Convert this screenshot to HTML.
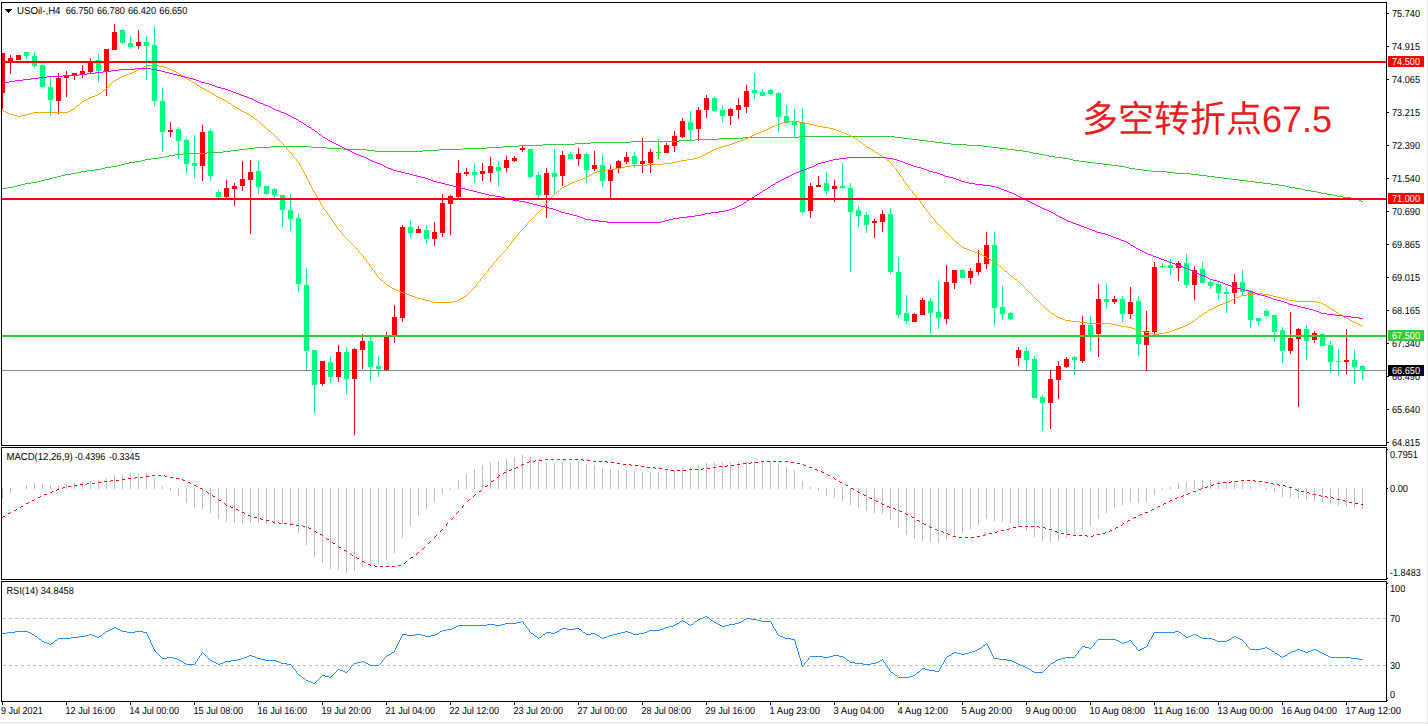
<!DOCTYPE html>
<html><head><meta charset="utf-8"><title>USOil H4</title>
<style>
html,body{margin:0;padding:0;background:#fff;}
body{width:1428px;height:724px;overflow:hidden;font-family:"Liberation Sans",sans-serif;}
svg{display:block;font-family:"Liberation Sans",sans-serif;text-rendering:geometricPrecision;}
svg rect,svg polyline,svg line{shape-rendering:crispEdges;}
</style></head><body>
<svg width="1428" height="724" viewBox="0 0 1428 724">
<rect x="0" y="0" width="1428" height="724" fill="#fff"/>
<rect x="0" y="722" width="1428" height="1" fill="#e5e5e5"/>
<rect x="0" y="723" width="1428" height="1" fill="#f3f3f3"/>
<rect x="1427" y="0" width="1" height="724" fill="#e5e5e5"/>
<rect x="2" y="370" width="1384" height="1" fill="#778899"/>
<rect x="2" y="53" width="1" height="56" fill="#ff0000"/>
<rect x="2" y="53" width="3" height="40" fill="#ff0000"/>
<rect x="10" y="55" width="1" height="19" fill="#ff0000"/>
<rect x="8" y="58" width="5" height="4" fill="#ff0000"/>
<rect x="18" y="55" width="1" height="5" fill="#ff0000"/>
<rect x="16" y="55" width="5" height="5" fill="#ff0000"/>
<rect x="26" y="52" width="1" height="7" fill="#00ff7f"/>
<rect x="24" y="52" width="5" height="4" fill="#00ff7f"/>
<rect x="34" y="52" width="1" height="16" fill="#00ff7f"/>
<rect x="32" y="56" width="5" height="10" fill="#00ff7f"/>
<rect x="42" y="63" width="1" height="25" fill="#00ff7f"/>
<rect x="40" y="65" width="5" height="22" fill="#00ff7f"/>
<rect x="50" y="78" width="1" height="38" fill="#00ff7f"/>
<rect x="48" y="87" width="5" height="13" fill="#00ff7f"/>
<rect x="58" y="73" width="1" height="41" fill="#ff0000"/>
<rect x="56" y="78" width="5" height="23" fill="#ff0000"/>
<rect x="66" y="71" width="1" height="26" fill="#ff0000"/>
<rect x="64" y="76" width="5" height="2" fill="#ff0000"/>
<rect x="74" y="73" width="1" height="7" fill="#ff0000"/>
<rect x="72" y="73" width="5" height="3" fill="#ff0000"/>
<rect x="82" y="65" width="1" height="13" fill="#ff0000"/>
<rect x="80" y="71" width="5" height="3" fill="#ff0000"/>
<rect x="90" y="58" width="1" height="16" fill="#ff0000"/>
<rect x="88" y="62" width="5" height="10" fill="#ff0000"/>
<rect x="98" y="54" width="1" height="28" fill="#00ff7f"/>
<rect x="96" y="60" width="5" height="11" fill="#00ff7f"/>
<rect x="106" y="49" width="1" height="47" fill="#ff0000"/>
<rect x="104" y="49" width="5" height="22" fill="#ff0000"/>
<rect x="114" y="24" width="1" height="26" fill="#ff0000"/>
<rect x="112" y="32" width="5" height="18" fill="#ff0000"/>
<rect x="122" y="29" width="1" height="15" fill="#00ff7f"/>
<rect x="120" y="30" width="5" height="13" fill="#00ff7f"/>
<rect x="130" y="36" width="1" height="13" fill="#00ff7f"/>
<rect x="128" y="43" width="5" height="4" fill="#00ff7f"/>
<rect x="138" y="30" width="1" height="19" fill="#ff0000"/>
<rect x="136" y="42" width="5" height="4" fill="#ff0000"/>
<rect x="146" y="36" width="1" height="44" fill="#00ff7f"/>
<rect x="144" y="42" width="5" height="4" fill="#00ff7f"/>
<rect x="154" y="26" width="1" height="80" fill="#00ff7f"/>
<rect x="152" y="45" width="5" height="56" fill="#00ff7f"/>
<rect x="162" y="88" width="1" height="64" fill="#00ff7f"/>
<rect x="160" y="101" width="5" height="31" fill="#00ff7f"/>
<rect x="170" y="122" width="1" height="15" fill="#ff0000"/>
<rect x="168" y="130" width="5" height="2" fill="#ff0000"/>
<rect x="178" y="127" width="1" height="32" fill="#00ff7f"/>
<rect x="176" y="129" width="5" height="12" fill="#00ff7f"/>
<rect x="186" y="138" width="1" height="36" fill="#00ff7f"/>
<rect x="184" y="140" width="5" height="24" fill="#00ff7f"/>
<rect x="194" y="135" width="1" height="43" fill="#00ff7f"/>
<rect x="192" y="163" width="5" height="3" fill="#00ff7f"/>
<rect x="202" y="125" width="1" height="56" fill="#ff0000"/>
<rect x="200" y="132" width="5" height="34" fill="#ff0000"/>
<rect x="210" y="129" width="1" height="52" fill="#00ff7f"/>
<rect x="208" y="131" width="5" height="45" fill="#00ff7f"/>
<rect x="218" y="190" width="1" height="8" fill="#00ff7f"/>
<rect x="216" y="192" width="5" height="5" fill="#00ff7f"/>
<rect x="226" y="180" width="1" height="18" fill="#ff0000"/>
<rect x="224" y="188" width="5" height="9" fill="#ff0000"/>
<rect x="234" y="183" width="1" height="23" fill="#ff0000"/>
<rect x="232" y="186" width="5" height="3" fill="#ff0000"/>
<rect x="242" y="161" width="1" height="30" fill="#ff0000"/>
<rect x="240" y="179" width="5" height="7" fill="#ff0000"/>
<rect x="250" y="160" width="1" height="74" fill="#ff0000"/>
<rect x="248" y="172" width="5" height="8" fill="#ff0000"/>
<rect x="258" y="161" width="1" height="33" fill="#00ff7f"/>
<rect x="256" y="171" width="5" height="16" fill="#00ff7f"/>
<rect x="266" y="186" width="1" height="9" fill="#00ff7f"/>
<rect x="264" y="186" width="5" height="8" fill="#00ff7f"/>
<rect x="274" y="188" width="1" height="10" fill="#00ff7f"/>
<rect x="272" y="189" width="5" height="6" fill="#00ff7f"/>
<rect x="282" y="195" width="1" height="32" fill="#00ff7f"/>
<rect x="280" y="195" width="5" height="15" fill="#00ff7f"/>
<rect x="290" y="194" width="1" height="37" fill="#00ff7f"/>
<rect x="288" y="210" width="5" height="9" fill="#00ff7f"/>
<rect x="298" y="214" width="1" height="78" fill="#00ff7f"/>
<rect x="296" y="218" width="5" height="66" fill="#00ff7f"/>
<rect x="306" y="268" width="1" height="102" fill="#00ff7f"/>
<rect x="304" y="285" width="5" height="66" fill="#00ff7f"/>
<rect x="314" y="350" width="1" height="64" fill="#00ff7f"/>
<rect x="312" y="350" width="5" height="35" fill="#00ff7f"/>
<rect x="322" y="361" width="1" height="25" fill="#ff0000"/>
<rect x="320" y="361" width="5" height="23" fill="#ff0000"/>
<rect x="330" y="357" width="1" height="26" fill="#00ff7f"/>
<rect x="328" y="362" width="5" height="15" fill="#00ff7f"/>
<rect x="338" y="345" width="1" height="37" fill="#ff0000"/>
<rect x="336" y="352" width="5" height="25" fill="#ff0000"/>
<rect x="346" y="347" width="1" height="47" fill="#00ff7f"/>
<rect x="344" y="352" width="5" height="27" fill="#00ff7f"/>
<rect x="354" y="348" width="1" height="87" fill="#ff0000"/>
<rect x="352" y="349" width="5" height="30" fill="#ff0000"/>
<rect x="362" y="334" width="1" height="35" fill="#ff0000"/>
<rect x="360" y="341" width="5" height="9" fill="#ff0000"/>
<rect x="370" y="337" width="1" height="45" fill="#00ff7f"/>
<rect x="368" y="341" width="5" height="26" fill="#00ff7f"/>
<rect x="378" y="356" width="1" height="21" fill="#00ff7f"/>
<rect x="376" y="366" width="5" height="3" fill="#00ff7f"/>
<rect x="386" y="332" width="1" height="39" fill="#ff0000"/>
<rect x="384" y="335" width="5" height="35" fill="#ff0000"/>
<rect x="394" y="305" width="1" height="38" fill="#ff0000"/>
<rect x="392" y="317" width="5" height="18" fill="#ff0000"/>
<rect x="402" y="225" width="1" height="97" fill="#ff0000"/>
<rect x="400" y="227" width="5" height="91" fill="#ff0000"/>
<rect x="410" y="220" width="1" height="18" fill="#00ff7f"/>
<rect x="408" y="227" width="5" height="6" fill="#00ff7f"/>
<rect x="418" y="226" width="1" height="7" fill="#ff0000"/>
<rect x="416" y="229" width="5" height="4" fill="#ff0000"/>
<rect x="426" y="225" width="1" height="19" fill="#00ff7f"/>
<rect x="424" y="230" width="5" height="9" fill="#00ff7f"/>
<rect x="434" y="222" width="1" height="24" fill="#ff0000"/>
<rect x="432" y="232" width="5" height="7" fill="#ff0000"/>
<rect x="442" y="194" width="1" height="43" fill="#ff0000"/>
<rect x="440" y="203" width="5" height="30" fill="#ff0000"/>
<rect x="450" y="195" width="1" height="40" fill="#ff0000"/>
<rect x="448" y="196" width="5" height="8" fill="#ff0000"/>
<rect x="458" y="160" width="1" height="38" fill="#ff0000"/>
<rect x="456" y="173" width="5" height="24" fill="#ff0000"/>
<rect x="466" y="168" width="1" height="8" fill="#ff0000"/>
<rect x="464" y="172" width="5" height="2" fill="#ff0000"/>
<rect x="474" y="163" width="1" height="20" fill="#00ff7f"/>
<rect x="472" y="172" width="5" height="3" fill="#00ff7f"/>
<rect x="482" y="163" width="1" height="18" fill="#ff0000"/>
<rect x="480" y="171" width="5" height="3" fill="#ff0000"/>
<rect x="490" y="157" width="1" height="25" fill="#ff0000"/>
<rect x="488" y="166" width="5" height="7" fill="#ff0000"/>
<rect x="498" y="161" width="1" height="25" fill="#00ff7f"/>
<rect x="496" y="167" width="5" height="4" fill="#00ff7f"/>
<rect x="506" y="156" width="1" height="16" fill="#ff0000"/>
<rect x="504" y="160" width="5" height="8" fill="#ff0000"/>
<rect x="514" y="156" width="1" height="6" fill="#ff0000"/>
<rect x="512" y="158" width="5" height="3" fill="#ff0000"/>
<rect x="522" y="146" width="1" height="6" fill="#ff0000"/>
<rect x="520" y="148" width="5" height="2" fill="#ff0000"/>
<rect x="530" y="149" width="1" height="29" fill="#00ff7f"/>
<rect x="528" y="149" width="5" height="28" fill="#00ff7f"/>
<rect x="538" y="172" width="1" height="26" fill="#00ff7f"/>
<rect x="536" y="175" width="5" height="20" fill="#00ff7f"/>
<rect x="546" y="168" width="1" height="50" fill="#ff0000"/>
<rect x="544" y="173" width="5" height="22" fill="#ff0000"/>
<rect x="554" y="149" width="1" height="45" fill="#00ff7f"/>
<rect x="552" y="173" width="5" height="4" fill="#00ff7f"/>
<rect x="562" y="151" width="1" height="35" fill="#ff0000"/>
<rect x="560" y="155" width="5" height="21" fill="#ff0000"/>
<rect x="570" y="152" width="1" height="7" fill="#00ff7f"/>
<rect x="568" y="154" width="5" height="5" fill="#00ff7f"/>
<rect x="578" y="148" width="1" height="18" fill="#ff0000"/>
<rect x="576" y="154" width="5" height="5" fill="#ff0000"/>
<rect x="586" y="153" width="1" height="30" fill="#00ff7f"/>
<rect x="584" y="154" width="5" height="16" fill="#00ff7f"/>
<rect x="594" y="151" width="1" height="20" fill="#ff0000"/>
<rect x="592" y="165" width="5" height="4" fill="#ff0000"/>
<rect x="602" y="154" width="1" height="33" fill="#00ff7f"/>
<rect x="600" y="165" width="5" height="16" fill="#00ff7f"/>
<rect x="610" y="165" width="1" height="33" fill="#ff0000"/>
<rect x="608" y="169" width="5" height="12" fill="#ff0000"/>
<rect x="618" y="160" width="1" height="13" fill="#ff0000"/>
<rect x="616" y="161" width="5" height="7" fill="#ff0000"/>
<rect x="626" y="152" width="1" height="12" fill="#ff0000"/>
<rect x="624" y="157" width="5" height="5" fill="#ff0000"/>
<rect x="634" y="152" width="1" height="16" fill="#00ff7f"/>
<rect x="632" y="156" width="5" height="8" fill="#00ff7f"/>
<rect x="642" y="138" width="1" height="35" fill="#ff0000"/>
<rect x="640" y="161" width="5" height="3" fill="#ff0000"/>
<rect x="650" y="149" width="1" height="24" fill="#ff0000"/>
<rect x="648" y="152" width="5" height="11" fill="#ff0000"/>
<rect x="658" y="139" width="1" height="20" fill="#00ff00"/>
<rect x="656" y="152" width="5" height="1" fill="#00ff00"/>
<rect x="666" y="143" width="1" height="10" fill="#ff0000"/>
<rect x="664" y="145" width="5" height="8" fill="#ff0000"/>
<rect x="674" y="131" width="1" height="21" fill="#ff0000"/>
<rect x="672" y="136" width="5" height="10" fill="#ff0000"/>
<rect x="682" y="118" width="1" height="20" fill="#ff0000"/>
<rect x="680" y="121" width="5" height="16" fill="#ff0000"/>
<rect x="690" y="111" width="1" height="31" fill="#00ff7f"/>
<rect x="688" y="122" width="5" height="8" fill="#00ff7f"/>
<rect x="698" y="107" width="1" height="34" fill="#ff0000"/>
<rect x="696" y="110" width="5" height="19" fill="#ff0000"/>
<rect x="706" y="95" width="1" height="23" fill="#ff0000"/>
<rect x="704" y="98" width="5" height="12" fill="#ff0000"/>
<rect x="714" y="97" width="1" height="15" fill="#00ff7f"/>
<rect x="712" y="98" width="5" height="13" fill="#00ff7f"/>
<rect x="722" y="105" width="1" height="17" fill="#00ff7f"/>
<rect x="720" y="110" width="5" height="6" fill="#00ff7f"/>
<rect x="730" y="108" width="1" height="17" fill="#ff0000"/>
<rect x="728" y="109" width="5" height="7" fill="#ff0000"/>
<rect x="738" y="98" width="1" height="21" fill="#ff0000"/>
<rect x="736" y="105" width="5" height="5" fill="#ff0000"/>
<rect x="746" y="85" width="1" height="28" fill="#ff0000"/>
<rect x="744" y="91" width="5" height="16" fill="#ff0000"/>
<rect x="754" y="73" width="1" height="26" fill="#00ff7f"/>
<rect x="752" y="90" width="5" height="3" fill="#00ff7f"/>
<rect x="762" y="89" width="1" height="7" fill="#00ff7f"/>
<rect x="760" y="92" width="5" height="4" fill="#00ff7f"/>
<rect x="770" y="89" width="1" height="6" fill="#00ff7f"/>
<rect x="768" y="90" width="5" height="4" fill="#00ff7f"/>
<rect x="778" y="92" width="1" height="40" fill="#00ff7f"/>
<rect x="776" y="93" width="5" height="24" fill="#00ff7f"/>
<rect x="786" y="105" width="1" height="19" fill="#00ff7f"/>
<rect x="784" y="116" width="5" height="7" fill="#00ff7f"/>
<rect x="794" y="109" width="1" height="29" fill="#00ff7f"/>
<rect x="792" y="121" width="5" height="4" fill="#00ff7f"/>
<rect x="802" y="108" width="1" height="106" fill="#00ff7f"/>
<rect x="800" y="123" width="5" height="89" fill="#00ff7f"/>
<rect x="810" y="183" width="1" height="35" fill="#ff0000"/>
<rect x="808" y="186" width="5" height="25" fill="#ff0000"/>
<rect x="818" y="176" width="1" height="11" fill="#ff0000"/>
<rect x="816" y="185" width="5" height="2" fill="#ff0000"/>
<rect x="826" y="172" width="1" height="23" fill="#00ff7f"/>
<rect x="824" y="183" width="5" height="8" fill="#00ff7f"/>
<rect x="834" y="180" width="1" height="22" fill="#ff0000"/>
<rect x="832" y="186" width="5" height="3" fill="#ff0000"/>
<rect x="842" y="163" width="1" height="26" fill="#00ff7f"/>
<rect x="840" y="186" width="5" height="2" fill="#00ff7f"/>
<rect x="850" y="183" width="1" height="89" fill="#00ff7f"/>
<rect x="848" y="188" width="5" height="24" fill="#00ff7f"/>
<rect x="858" y="206" width="1" height="21" fill="#00ff7f"/>
<rect x="856" y="210" width="5" height="6" fill="#00ff7f"/>
<rect x="866" y="212" width="1" height="21" fill="#00ff7f"/>
<rect x="864" y="215" width="5" height="10" fill="#00ff7f"/>
<rect x="874" y="219" width="1" height="19" fill="#ff0000"/>
<rect x="872" y="221" width="5" height="2" fill="#ff0000"/>
<rect x="882" y="210" width="1" height="22" fill="#ff0000"/>
<rect x="880" y="214" width="5" height="8" fill="#ff0000"/>
<rect x="890" y="208" width="1" height="66" fill="#00ff7f"/>
<rect x="888" y="214" width="5" height="58" fill="#00ff7f"/>
<rect x="898" y="257" width="1" height="61" fill="#00ff7f"/>
<rect x="896" y="272" width="5" height="43" fill="#00ff7f"/>
<rect x="906" y="295" width="1" height="29" fill="#00ff7f"/>
<rect x="904" y="313" width="5" height="8" fill="#00ff7f"/>
<rect x="914" y="313" width="1" height="9" fill="#ff0000"/>
<rect x="912" y="314" width="5" height="8" fill="#ff0000"/>
<rect x="922" y="298" width="1" height="17" fill="#ff0000"/>
<rect x="920" y="300" width="5" height="15" fill="#ff0000"/>
<rect x="930" y="298" width="1" height="36" fill="#00ff7f"/>
<rect x="928" y="301" width="5" height="12" fill="#00ff7f"/>
<rect x="938" y="281" width="1" height="48" fill="#00ff7f"/>
<rect x="936" y="312" width="5" height="6" fill="#00ff7f"/>
<rect x="946" y="265" width="1" height="59" fill="#ff0000"/>
<rect x="944" y="282" width="5" height="37" fill="#ff0000"/>
<rect x="954" y="270" width="1" height="19" fill="#ff0000"/>
<rect x="952" y="270" width="5" height="13" fill="#ff0000"/>
<rect x="962" y="269" width="1" height="9" fill="#00ff7f"/>
<rect x="960" y="270" width="5" height="8" fill="#00ff7f"/>
<rect x="970" y="268" width="1" height="16" fill="#ff0000"/>
<rect x="968" y="271" width="5" height="7" fill="#ff0000"/>
<rect x="978" y="250" width="1" height="25" fill="#ff0000"/>
<rect x="976" y="263" width="5" height="9" fill="#ff0000"/>
<rect x="986" y="232" width="1" height="37" fill="#ff0000"/>
<rect x="984" y="245" width="5" height="19" fill="#ff0000"/>
<rect x="994" y="232" width="1" height="94" fill="#00ff7f"/>
<rect x="992" y="245" width="5" height="63" fill="#00ff7f"/>
<rect x="1002" y="286" width="1" height="34" fill="#00ff7f"/>
<rect x="1000" y="307" width="5" height="7" fill="#00ff7f"/>
<rect x="1010" y="312" width="1" height="8" fill="#00ff7f"/>
<rect x="1008" y="313" width="5" height="6" fill="#00ff7f"/>
<rect x="1018" y="347" width="1" height="19" fill="#ff0000"/>
<rect x="1016" y="350" width="5" height="8" fill="#ff0000"/>
<rect x="1026" y="347" width="1" height="23" fill="#00ff7f"/>
<rect x="1024" y="351" width="5" height="9" fill="#00ff7f"/>
<rect x="1034" y="356" width="1" height="42" fill="#00ff7f"/>
<rect x="1032" y="359" width="5" height="39" fill="#00ff7f"/>
<rect x="1042" y="395" width="1" height="36" fill="#00ff7f"/>
<rect x="1040" y="397" width="5" height="6" fill="#00ff7f"/>
<rect x="1050" y="370" width="1" height="59" fill="#ff0000"/>
<rect x="1048" y="379" width="5" height="24" fill="#ff0000"/>
<rect x="1058" y="361" width="1" height="38" fill="#ff0000"/>
<rect x="1056" y="366" width="5" height="14" fill="#ff0000"/>
<rect x="1066" y="357" width="1" height="11" fill="#ff0000"/>
<rect x="1064" y="359" width="5" height="8" fill="#ff0000"/>
<rect x="1074" y="356" width="1" height="19" fill="#00ff7f"/>
<rect x="1072" y="357" width="5" height="3" fill="#00ff7f"/>
<rect x="1082" y="316" width="1" height="47" fill="#ff0000"/>
<rect x="1080" y="325" width="5" height="36" fill="#ff0000"/>
<rect x="1090" y="316" width="1" height="35" fill="#00ff7f"/>
<rect x="1088" y="325" width="5" height="11" fill="#00ff7f"/>
<rect x="1098" y="284" width="1" height="73" fill="#ff0000"/>
<rect x="1096" y="299" width="5" height="35" fill="#ff0000"/>
<rect x="1106" y="283" width="1" height="26" fill="#00ff7f"/>
<rect x="1104" y="299" width="5" height="3" fill="#00ff7f"/>
<rect x="1114" y="296" width="1" height="8" fill="#ff0000"/>
<rect x="1112" y="299" width="5" height="3" fill="#ff0000"/>
<rect x="1122" y="296" width="1" height="26" fill="#00ff7f"/>
<rect x="1120" y="299" width="5" height="15" fill="#00ff7f"/>
<rect x="1130" y="287" width="1" height="32" fill="#ff0000"/>
<rect x="1128" y="302" width="5" height="12" fill="#ff0000"/>
<rect x="1138" y="296" width="1" height="60" fill="#00ff7f"/>
<rect x="1136" y="301" width="5" height="43" fill="#00ff7f"/>
<rect x="1146" y="311" width="1" height="60" fill="#ff0000"/>
<rect x="1144" y="331" width="5" height="14" fill="#ff0000"/>
<rect x="1154" y="262" width="1" height="72" fill="#ff0000"/>
<rect x="1152" y="267" width="5" height="65" fill="#ff0000"/>
<rect x="1162" y="263" width="1" height="5" fill="#00ff00"/>
<rect x="1160" y="266" width="5" height="1" fill="#00ff00"/>
<rect x="1170" y="259" width="1" height="16" fill="#00ff7f"/>
<rect x="1168" y="265" width="5" height="3" fill="#00ff7f"/>
<rect x="1178" y="261" width="1" height="20" fill="#ff0000"/>
<rect x="1176" y="263" width="5" height="5" fill="#ff0000"/>
<rect x="1186" y="254" width="1" height="34" fill="#00ff7f"/>
<rect x="1184" y="263" width="5" height="22" fill="#00ff7f"/>
<rect x="1194" y="266" width="1" height="34" fill="#ff0000"/>
<rect x="1192" y="270" width="5" height="15" fill="#ff0000"/>
<rect x="1202" y="262" width="1" height="21" fill="#00ff7f"/>
<rect x="1200" y="269" width="5" height="14" fill="#00ff7f"/>
<rect x="1210" y="279" width="1" height="10" fill="#00ff7f"/>
<rect x="1208" y="282" width="5" height="4" fill="#00ff7f"/>
<rect x="1218" y="282" width="1" height="17" fill="#00ff7f"/>
<rect x="1216" y="284" width="5" height="9" fill="#00ff7f"/>
<rect x="1226" y="287" width="1" height="26" fill="#00ff7f"/>
<rect x="1224" y="292" width="5" height="2" fill="#00ff7f"/>
<rect x="1234" y="274" width="1" height="30" fill="#ff0000"/>
<rect x="1232" y="282" width="5" height="11" fill="#ff0000"/>
<rect x="1242" y="270" width="1" height="25" fill="#00ff7f"/>
<rect x="1240" y="282" width="5" height="10" fill="#00ff7f"/>
<rect x="1250" y="290" width="1" height="38" fill="#00ff7f"/>
<rect x="1248" y="291" width="5" height="29" fill="#00ff7f"/>
<rect x="1258" y="318" width="1" height="8" fill="#00ff7f"/>
<rect x="1256" y="318" width="5" height="3" fill="#00ff7f"/>
<rect x="1266" y="309" width="1" height="8" fill="#00ff7f"/>
<rect x="1264" y="311" width="5" height="5" fill="#00ff7f"/>
<rect x="1274" y="315" width="1" height="27" fill="#00ff7f"/>
<rect x="1272" y="315" width="5" height="17" fill="#00ff7f"/>
<rect x="1282" y="327" width="1" height="36" fill="#00ff7f"/>
<rect x="1280" y="330" width="5" height="21" fill="#00ff7f"/>
<rect x="1290" y="312" width="1" height="42" fill="#ff0000"/>
<rect x="1288" y="338" width="5" height="13" fill="#ff0000"/>
<rect x="1298" y="328" width="1" height="79" fill="#ff0000"/>
<rect x="1296" y="329" width="5" height="10" fill="#ff0000"/>
<rect x="1306" y="325" width="1" height="35" fill="#00ff7f"/>
<rect x="1304" y="329" width="5" height="12" fill="#00ff7f"/>
<rect x="1314" y="331" width="1" height="12" fill="#ff0000"/>
<rect x="1312" y="333" width="5" height="7" fill="#ff0000"/>
<rect x="1322" y="333" width="1" height="13" fill="#00ff7f"/>
<rect x="1320" y="334" width="5" height="12" fill="#00ff7f"/>
<rect x="1330" y="341" width="1" height="32" fill="#00ff7f"/>
<rect x="1328" y="345" width="5" height="17" fill="#00ff7f"/>
<rect x="1338" y="349" width="1" height="27" fill="#00ff7f"/>
<rect x="1336" y="361" width="5" height="1" fill="#00ff7f"/>
<rect x="1346" y="329" width="1" height="45" fill="#ff0000"/>
<rect x="1344" y="360" width="5" height="2" fill="#ff0000"/>
<rect x="1354" y="350" width="1" height="34" fill="#00ff7f"/>
<rect x="1352" y="360" width="5" height="7" fill="#00ff7f"/>
<rect x="1362" y="365" width="1" height="15" fill="#00ff7f"/>
<rect x="1360" y="366" width="5" height="5" fill="#00ff7f"/>
<path d="M2 188h5v1h-5zM1295 188h6v1h-6zM7 187h6v1h-6zM1289 187h6v1h-6zM13 186h4v1h-4zM1285 186h4v1h-4zM17 185h4v1h-4zM1279 185h6v1h-6zM21 184h4v1h-4zM1271 184h8v1h-8zM25 183h6v1h-6zM1263 183h8v1h-8zM31 182h6v1h-6zM1255 182h8v1h-8zM37 181h4v1h-4zM1247 181h8v1h-8zM41 180h4v1h-4zM1239 180h8v1h-8zM45 179h4v1h-4zM1231 179h8v1h-8zM49 178h4v1h-4zM1223 178h8v1h-8zM53 177h4v1h-4zM1215 177h8v1h-8zM57 176h4v1h-4zM1207 176h8v1h-8zM61 175h4v1h-4zM1199 175h8v1h-8zM65 174h6v1h-6zM1191 174h8v1h-8zM71 173h6v1h-6zM1175 173h16v1h-16zM77 172h4v1h-4zM1167 172h8v1h-8zM81 171h6v1h-6zM1151 171h16v1h-16zM87 170h8v1h-8zM1143 170h8v1h-8zM95 169h6v1h-6zM1135 169h8v1h-8zM101 168h4v1h-4zM1129 168h6v1h-6zM105 167h6v1h-6zM1125 167h4v1h-4zM111 166h6v1h-6zM1119 166h6v1h-6zM117 165h4v1h-4zM1111 165h8v1h-8zM121 164h4v1h-4zM1103 164h8v1h-8zM125 163h4v1h-4zM1095 163h8v1h-8zM129 162h6v1h-6zM1087 162h8v1h-8zM135 161h6v1h-6zM1079 161h8v1h-8zM141 160h4v1h-4zM1073 160h6v1h-6zM145 159h6v1h-6zM1069 159h4v1h-4zM151 158h8v1h-8zM1063 158h6v1h-6zM159 157h6v1h-6zM1055 157h8v1h-8zM165 156h4v1h-4zM1049 156h6v1h-6zM169 155h6v1h-6zM1045 155h4v1h-4zM175 154h8v1h-8zM1039 154h6v1h-6zM183 153h24v1h-24zM1033 153h6v1h-6zM207 152h16v1h-16zM1029 152h4v1h-4zM223 151h8v1h-8zM375 151h48v1h-48zM1023 151h6v1h-6zM231 150h8v1h-8zM367 150h8v1h-8zM423 150h16v1h-16zM1015 150h8v1h-8zM239 149h8v1h-8zM343 149h24v1h-24zM439 149h24v1h-24zM1007 149h8v1h-8zM247 148h8v1h-8zM327 148h16v1h-16zM463 148h24v1h-24zM999 148h8v1h-8zM255 147h16v1h-16zM311 147h16v1h-16zM487 147h16v1h-16zM991 147h8v1h-8zM271 146h40v1h-40zM503 146h16v1h-16zM983 146h8v1h-8zM519 145h24v1h-24zM967 145h16v1h-16zM543 144h32v1h-32zM951 144h16v1h-16zM575 143h16v1h-16zM943 143h8v1h-8zM591 142h40v1h-40zM935 142h8v1h-8zM631 141h48v1h-48zM927 141h8v1h-8zM679 140h16v1h-16zM919 140h8v1h-8zM695 139h24v1h-24zM911 139h8v1h-8zM719 138h24v1h-24zM903 138h8v1h-8zM743 137h56v1h-56zM895 137h8v1h-8zM799 136h96v1h-96zM1301 189h4v1h-4zM1305 190h6v1h-6zM1311 191h6v1h-6zM1317 192h4v1h-4zM1321 193h6v1h-6zM1327 194h6v1h-6zM1333 195h4v1h-4zM1337 196h6v1h-6zM1343 197h8v1h-8zM1351 198h5v1h-5zM1356 199h3v1h-3zM1359 200h2v1h-2zM1361 201h2v1h-2z" fill="#32cd32"/>
<path d="M2 110h2v1h-2zM70 110h2v1h-2zM240 110h2v1h-2zM4 111h2v1h-2zM68 111h2v1h-2zM242 111h2v1h-2zM6 112h2v1h-2zM33 112h35v1h-35zM244 112h2v1h-2zM8 113h2v1h-2zM29 113h4v1h-4zM246 113h2v1h-2zM10 114h3v1h-3zM25 114h4v1h-4zM248 114h2v1h-2zM13 115h4v1h-4zM21 115h4v1h-4zM250 115h1v1h-1zM17 116h4v1h-4zM251 116h2v1h-2zM72 109h2v1h-2zM239 109h1v1h-1zM74 108h1v1h-1zM237 108h2v1h-2zM75 107h1v1h-1zM235 107h2v1h-2zM76 106h1v1h-1zM234 106h1v1h-1zM77 105h2v1h-2zM232 105h2v1h-2zM79 104h1v1h-1zM231 104h1v1h-1zM80 103h1v1h-1zM229 103h2v1h-2zM81 102h1v1h-1zM227 102h2v1h-2zM82 101h2v1h-2zM226 101h1v1h-1zM84 100h2v1h-2zM224 100h2v1h-2zM86 99h2v1h-2zM222 99h2v1h-2zM88 98h2v1h-2zM220 98h2v1h-2zM90 97h2v1h-2zM218 97h2v1h-2zM92 96h3v1h-3zM216 96h2v1h-2zM95 95h2v1h-2zM215 95h1v1h-1zM97 94h2v1h-2zM213 94h2v1h-2zM99 93h2v1h-2zM211 93h2v1h-2zM101 92h1v1h-1zM210 92h1v1h-1zM102 91h1v1h-1zM208 91h2v1h-2zM103 90h2v1h-2zM206 90h2v1h-2zM105 89h1v1h-1zM204 89h2v1h-2zM106 88h1v1h-1zM202 88h2v1h-2zM107 87h1v1h-1zM200 87h2v1h-2zM108 86h1v1h-1zM199 86h1v1h-1zM109 85h1v1h-1zM197 85h2v1h-2zM110 84h1v1h-1zM195 84h2v1h-2zM111 83h1v1h-1zM194 83h1v1h-1zM112 82h1v1h-1zM192 82h2v1h-2zM113 81h1v1h-1zM191 81h1v1h-1zM114 80h2v1h-2zM189 80h2v1h-2zM116 79h2v1h-2zM187 79h2v1h-2zM118 78h2v1h-2zM186 78h1v1h-1zM120 77h2v1h-2zM184 77h2v1h-2zM122 76h2v1h-2zM183 76h1v1h-1zM124 75h3v1h-3zM181 75h2v1h-2zM127 74h2v1h-2zM179 74h2v1h-2zM129 73h3v1h-3zM178 73h1v1h-1zM132 72h2v1h-2zM176 72h2v1h-2zM134 71h2v1h-2zM174 71h2v1h-2zM136 70h2v1h-2zM172 70h2v1h-2zM138 69h2v1h-2zM169 69h3v1h-3zM140 68h2v1h-2zM167 68h2v1h-2zM142 67h2v1h-2zM164 67h3v1h-3zM144 66h2v1h-2zM159 66h5v1h-5zM146 65h13v1h-13zM253 117h1v1h-1zM254 118h1v1h-1zM255 119h2v1h-2zM257 120h1v1h-1zM258 121h1v1h-1zM785 121h14v1h-14zM259 122h1v1h-1zM783 122h2v1h-2zM799 122h6v1h-6zM260 123h1v1h-1zM780 123h3v1h-3zM805 123h4v1h-4zM261 124h2v1h-2zM777 124h3v1h-3zM809 124h4v1h-4zM263 125h1v1h-1zM775 125h2v1h-2zM813 125h4v1h-4zM264 126h1v1h-1zM772 126h3v1h-3zM817 126h6v1h-6zM265 127h1v1h-1zM770 127h2v1h-2zM823 127h6v1h-6zM266 128h1v1h-1zM768 128h2v1h-2zM829 128h4v1h-4zM267 129h1v1h-1zM766 129h2v1h-2zM833 129h3v1h-3zM268 130h1v1h-1zM764 130h2v1h-2zM836 130h3v1h-3zM269 131h2v1h-2zM761 131h3v1h-3zM839 131h2v1h-2zM271 132h1v1h-1zM759 132h2v1h-2zM841 132h3v1h-3zM272 133h1v1h-1zM756 133h3v1h-3zM844 133h3v1h-3zM273 134h1v1h-1zM754 134h2v1h-2zM847 134h2v1h-2zM274 135h1v1h-1zM752 135h2v1h-2zM849 135h2v1h-2zM275 136h1v1h-1zM750 136h2v1h-2zM851 136h2v1h-2zM276 137h1v1h-1zM748 137h2v1h-2zM853 137h2v1h-2zM277 138h1v1h-1zM745 138h3v1h-3zM855 138h1v1h-1zM278 139h1v1h-1zM743 139h2v1h-2zM856 139h2v1h-2zM279 140h1v1h-1zM740 140h3v1h-3zM858 140h1v1h-1zM280 141h1v1h-1zM737 141h3v1h-3zM859 141h2v1h-2zM281 142h1v1h-1zM735 142h2v1h-2zM861 142h1v1h-1zM282 143h1v1h-1zM732 143h3v1h-3zM862 143h1v1h-1zM283 144h1v1h-1zM729 144h3v1h-3zM863 144h2v1h-2zM284 145h1v1h-1zM725 145h4v1h-4zM865 145h1v1h-1zM285 146h1v1h-1zM721 146h4v1h-4zM866 146h1v1h-1zM286 147h1v1h-1zM719 147h2v1h-2zM867 147h2v1h-2zM286 148h1v1h-1zM716 148h3v1h-3zM869 148h2v1h-2zM287 149h1v1h-1zM714 149h2v1h-2zM871 149h1v1h-1zM288 150h1v1h-1zM712 150h2v1h-2zM872 150h2v1h-2zM289 151h1v1h-1zM710 151h2v1h-2zM874 151h1v1h-1zM290 152h1v1h-1zM708 152h2v1h-2zM875 152h2v1h-2zM291 153h1v1h-1zM706 153h2v1h-2zM877 153h2v1h-2zM292 154h1v1h-1zM704 154h2v1h-2zM879 154h1v1h-1zM292 155h1v1h-1zM702 155h2v1h-2zM880 155h2v1h-2zM293 156h1v1h-1zM700 156h2v1h-2zM882 156h1v1h-1zM294 157h1v1h-1zM697 157h3v1h-3zM883 157h2v1h-2zM295 158h1v1h-1zM693 158h4v1h-4zM885 158h1v1h-1zM296 159h1v1h-1zM687 159h6v1h-6zM886 159h1v1h-1zM296 160h1v1h-1zM681 160h6v1h-6zM887 160h2v1h-2zM297 161h1v1h-1zM677 161h4v1h-4zM889 161h1v1h-1zM298 162h1v1h-1zM671 162h6v1h-6zM890 162h1v1h-1zM299 163h1v1h-1zM663 163h8v1h-8zM891 163h1v1h-1zM299 164h1v1h-1zM647 164h16v1h-16zM892 164h1v1h-1zM300 165h1v1h-1zM631 165h16v1h-16zM892 165h1v1h-1zM300 166h1v1h-1zM625 166h6v1h-6zM893 166h1v1h-1zM301 167h1v1h-1zM621 167h4v1h-4zM894 167h1v1h-1zM301 168h1v1h-1zM615 168h6v1h-6zM895 168h1v1h-1zM302 169h1v1h-1zM607 169h8v1h-8zM896 169h1v1h-1zM303 170h1v1h-1zM601 170h6v1h-6zM896 170h1v1h-1zM303 171h1v1h-1zM597 171h4v1h-4zM897 171h1v1h-1zM304 172h1v1h-1zM594 172h3v1h-3zM898 172h1v1h-1zM304 173h1v1h-1zM592 173h2v1h-2zM899 173h1v1h-1zM305 174h1v1h-1zM591 174h1v1h-1zM899 174h1v1h-1zM305 175h1v1h-1zM589 175h2v1h-2zM900 175h1v1h-1zM306 176h1v1h-1zM587 176h2v1h-2zM901 176h1v1h-1zM306 177h1v1h-1zM585 177h2v1h-2zM901 177h1v1h-1zM307 178h1v1h-1zM583 178h2v1h-2zM902 178h1v1h-1zM307 179h1v1h-1zM580 179h3v1h-3zM903 179h1v1h-1zM308 180h1v1h-1zM577 180h3v1h-3zM903 180h1v1h-1zM308 181h1v1h-1zM575 181h2v1h-2zM904 181h1v1h-1zM309 182h1v1h-1zM572 182h3v1h-3zM905 182h1v1h-1zM309 183h1v1h-1zM570 183h2v1h-2zM905 183h1v1h-1zM310 184h1v1h-1zM568 184h2v1h-2zM906 184h1v1h-1zM310 185h1v1h-1zM566 185h2v1h-2zM907 185h1v1h-1zM311 186h1v1h-1zM564 186h2v1h-2zM908 186h1v1h-1zM311 187h1v1h-1zM562 187h2v1h-2zM908 187h1v1h-1zM312 188h1v1h-1zM561 188h1v1h-1zM909 188h1v1h-1zM312 189h1v1h-1zM560 189h1v1h-1zM910 189h1v1h-1zM313 190h1v1h-1zM559 190h1v1h-1zM911 190h1v1h-1zM313 191h1v1h-1zM557 191h2v1h-2zM912 191h1v1h-1zM314 192h1v1h-1zM556 192h1v1h-1zM912 192h1v1h-1zM315 193h1v1h-1zM555 193h1v1h-1zM913 193h1v1h-1zM315 194h1v1h-1zM554 194h1v1h-1zM914 194h1v1h-1zM316 195h1v1h-1zM553 195h1v1h-1zM915 195h1v1h-1zM316 196h1v1h-1zM552 196h1v1h-1zM916 196h1v1h-1zM317 197h1v1h-1zM551 197h1v1h-1zM916 197h1v1h-1zM317 198h1v1h-1zM550 198h1v1h-1zM917 198h1v1h-1zM318 199h1v1h-1zM550 199h1v1h-1zM918 199h1v1h-1zM319 200h1v1h-1zM549 200h1v1h-1zM919 200h1v1h-1zM319 201h1v1h-1zM548 201h1v1h-1zM920 201h1v1h-1zM320 202h1v1h-1zM547 202h1v1h-1zM920 202h1v1h-1zM320 203h1v1h-1zM546 203h1v1h-1zM921 203h1v1h-1zM321 204h1v1h-1zM545 204h1v1h-1zM922 204h1v1h-1zM321 205h1v1h-1zM544 205h1v1h-1zM923 205h1v1h-1zM322 206h1v1h-1zM543 206h1v1h-1zM923 206h1v1h-1zM323 207h1v1h-1zM542 207h1v1h-1zM924 207h1v1h-1zM323 208h1v1h-1zM542 208h1v1h-1zM925 208h1v1h-1zM324 209h1v1h-1zM541 209h1v1h-1zM926 209h1v1h-1zM325 210h1v1h-1zM540 210h1v1h-1zM926 210h1v1h-1zM326 211h1v1h-1zM539 211h1v1h-1zM927 211h1v1h-1zM326 212h1v1h-1zM538 212h1v1h-1zM928 212h1v1h-1zM327 213h1v1h-1zM537 213h1v1h-1zM929 213h1v1h-1zM328 214h1v1h-1zM536 214h1v1h-1zM929 214h1v1h-1zM329 215h1v1h-1zM535 215h1v1h-1zM930 215h1v1h-1zM329 216h1v1h-1zM534 216h1v1h-1zM931 216h1v1h-1zM330 217h1v1h-1zM533 217h1v1h-1zM932 217h1v1h-1zM331 218h1v1h-1zM532 218h1v1h-1zM933 218h1v1h-1zM331 219h1v1h-1zM531 219h1v1h-1zM934 219h1v1h-1zM332 220h1v1h-1zM530 220h1v1h-1zM934 220h1v1h-1zM333 221h1v1h-1zM529 221h1v1h-1zM935 221h1v1h-1zM333 222h1v1h-1zM528 222h1v1h-1zM936 222h1v1h-1zM334 223h1v1h-1zM527 223h1v1h-1zM937 223h1v1h-1zM335 224h1v1h-1zM526 224h1v1h-1zM938 224h1v1h-1zM335 225h1v1h-1zM526 225h1v1h-1zM939 225h1v1h-1zM336 226h1v1h-1zM525 226h1v1h-1zM940 226h1v1h-1zM337 227h1v1h-1zM524 227h1v1h-1zM941 227h1v1h-1zM337 228h1v1h-1zM523 228h1v1h-1zM942 228h1v1h-1zM338 229h1v1h-1zM522 229h1v1h-1zM943 229h1v1h-1zM339 230h1v1h-1zM521 230h1v1h-1zM944 230h1v1h-1zM340 231h1v1h-1zM520 231h1v1h-1zM945 231h1v1h-1zM341 232h1v1h-1zM519 232h1v1h-1zM946 232h1v1h-1zM342 233h1v1h-1zM518 233h1v1h-1zM947 233h1v1h-1zM342 234h1v1h-1zM518 234h1v1h-1zM948 234h1v1h-1zM343 235h1v1h-1zM517 235h1v1h-1zM949 235h1v1h-1zM344 236h1v1h-1zM516 236h1v1h-1zM950 236h1v1h-1zM345 237h1v1h-1zM515 237h1v1h-1zM951 237h1v1h-1zM346 238h1v1h-1zM514 238h1v1h-1zM952 238h1v1h-1zM347 239h1v1h-1zM513 239h1v1h-1zM953 239h1v1h-1zM348 240h1v1h-1zM513 240h1v1h-1zM954 240h1v1h-1zM349 241h1v1h-1zM512 241h1v1h-1zM955 241h1v1h-1zM350 242h1v1h-1zM511 242h1v1h-1zM956 242h1v1h-1zM351 243h1v1h-1zM510 243h1v1h-1zM957 243h2v1h-2zM352 244h1v1h-1zM510 244h1v1h-1zM959 244h1v1h-1zM353 245h1v1h-1zM509 245h1v1h-1zM960 245h1v1h-1zM354 246h1v1h-1zM508 246h1v1h-1zM961 246h1v1h-1zM355 247h1v1h-1zM507 247h1v1h-1zM962 247h2v1h-2zM356 248h1v1h-1zM507 248h1v1h-1zM964 248h3v1h-3zM357 249h1v1h-1zM506 249h1v1h-1zM967 249h2v1h-2zM358 250h1v1h-1zM505 250h1v1h-1zM969 250h3v1h-3zM358 251h1v1h-1zM504 251h1v1h-1zM972 251h3v1h-3zM359 252h1v1h-1zM503 252h1v1h-1zM975 252h2v1h-2zM360 253h1v1h-1zM502 253h1v1h-1zM977 253h3v1h-3zM361 254h1v1h-1zM501 254h1v1h-1zM980 254h2v1h-2zM362 255h1v1h-1zM500 255h1v1h-1zM982 255h2v1h-2zM363 256h1v1h-1zM499 256h1v1h-1zM984 256h2v1h-2zM363 257h1v1h-1zM498 257h1v1h-1zM986 257h1v1h-1zM364 258h1v1h-1zM497 258h1v1h-1zM987 258h2v1h-2zM365 259h1v1h-1zM496 259h1v1h-1zM989 259h2v1h-2zM366 260h1v1h-1zM496 260h1v1h-1zM991 260h1v1h-1zM366 261h1v1h-1zM495 261h1v1h-1zM992 261h2v1h-2zM367 262h1v1h-1zM494 262h1v1h-1zM994 262h1v1h-1zM368 263h1v1h-1zM493 263h1v1h-1zM995 263h2v1h-2zM369 264h1v1h-1zM492 264h1v1h-1zM997 264h1v1h-1zM369 265h1v1h-1zM492 265h1v1h-1zM998 265h1v1h-1zM370 266h1v1h-1zM491 266h1v1h-1zM999 266h2v1h-2zM371 267h1v1h-1zM490 267h1v1h-1zM1001 267h1v1h-1zM371 268h1v1h-1zM489 268h1v1h-1zM1002 268h1v1h-1zM372 269h1v1h-1zM488 269h1v1h-1zM1003 269h1v1h-1zM373 270h1v1h-1zM488 270h1v1h-1zM1004 270h1v1h-1zM374 271h1v1h-1zM487 271h1v1h-1zM1005 271h2v1h-2zM374 272h1v1h-1zM486 272h1v1h-1zM1007 272h1v1h-1zM375 273h1v1h-1zM485 273h1v1h-1zM1008 273h1v1h-1zM376 274h1v1h-1zM484 274h1v1h-1zM1009 274h1v1h-1zM377 275h1v1h-1zM484 275h1v1h-1zM1010 275h1v1h-1zM377 276h1v1h-1zM483 276h1v1h-1zM1011 276h2v1h-2zM378 277h1v1h-1zM482 277h1v1h-1zM1013 277h1v1h-1zM379 278h1v1h-1zM481 278h1v1h-1zM1014 278h1v1h-1zM380 279h1v1h-1zM480 279h1v1h-1zM1015 279h2v1h-2zM381 280h2v1h-2zM480 280h1v1h-1zM1017 280h1v1h-1zM383 281h1v1h-1zM479 281h1v1h-1zM1018 281h1v1h-1zM384 282h1v1h-1zM478 282h1v1h-1zM1019 282h1v1h-1zM385 283h1v1h-1zM477 283h1v1h-1zM1020 283h1v1h-1zM386 284h1v1h-1zM476 284h1v1h-1zM1021 284h1v1h-1zM387 285h2v1h-2zM476 285h1v1h-1zM1022 285h1v1h-1zM389 286h2v1h-2zM475 286h1v1h-1zM1023 286h1v1h-1zM391 287h1v1h-1zM474 287h1v1h-1zM1024 287h1v1h-1zM392 288h2v1h-2zM473 288h1v1h-1zM1025 288h1v1h-1zM394 289h2v1h-2zM472 289h1v1h-1zM1026 289h1v1h-1zM396 290h3v1h-3zM471 290h1v1h-1zM1027 290h1v1h-1zM399 291h2v1h-2zM470 291h1v1h-1zM1028 291h1v1h-1zM401 292h3v1h-3zM469 292h1v1h-1zM1029 292h1v1h-1zM404 293h3v1h-3zM468 293h1v1h-1zM1030 293h1v1h-1zM1255 293h8v1h-8zM407 294h2v1h-2zM467 294h1v1h-1zM1031 294h1v1h-1zM1247 294h8v1h-8zM1263 294h6v1h-6zM409 295h3v1h-3zM466 295h1v1h-1zM1032 295h1v1h-1zM1241 295h6v1h-6zM1269 295h4v1h-4zM412 296h3v1h-3zM464 296h2v1h-2zM1033 296h1v1h-1zM1239 296h2v1h-2zM1273 296h4v1h-4zM415 297h2v1h-2zM463 297h1v1h-1zM1034 297h1v1h-1zM1236 297h3v1h-3zM1277 297h4v1h-4zM417 298h4v1h-4zM461 298h2v1h-2zM1035 298h1v1h-1zM1234 298h2v1h-2zM1281 298h4v1h-4zM421 299h4v1h-4zM459 299h2v1h-2zM1036 299h1v1h-1zM1232 299h2v1h-2zM1285 299h4v1h-4zM425 300h4v1h-4zM457 300h2v1h-2zM1037 300h1v1h-1zM1230 300h2v1h-2zM1289 300h6v1h-6zM429 301h4v1h-4zM453 301h4v1h-4zM1038 301h1v1h-1zM1228 301h2v1h-2zM1295 301h22v1h-22zM433 302h20v1h-20zM1039 302h1v1h-1zM1225 302h3v1h-3zM1317 302h4v1h-4zM1040 303h1v1h-1zM1223 303h2v1h-2zM1321 303h2v1h-2zM1041 304h1v1h-1zM1220 304h3v1h-3zM1323 304h2v1h-2zM1042 305h1v1h-1zM1218 305h2v1h-2zM1325 305h2v1h-2zM1043 306h1v1h-1zM1216 306h2v1h-2zM1327 306h1v1h-1zM1044 307h1v1h-1zM1214 307h2v1h-2zM1328 307h2v1h-2zM1045 308h2v1h-2zM1212 308h2v1h-2zM1330 308h1v1h-1zM1047 309h1v1h-1zM1210 309h2v1h-2zM1331 309h2v1h-2zM1048 310h1v1h-1zM1208 310h2v1h-2zM1333 310h2v1h-2zM1049 311h1v1h-1zM1207 311h1v1h-1zM1335 311h1v1h-1zM1050 312h1v1h-1zM1205 312h2v1h-2zM1336 312h2v1h-2zM1051 313h2v1h-2zM1203 313h2v1h-2zM1338 313h1v1h-1zM1053 314h2v1h-2zM1202 314h1v1h-1zM1339 314h2v1h-2zM1055 315h1v1h-1zM1201 315h1v1h-1zM1341 315h2v1h-2zM1056 316h2v1h-2zM1199 316h2v1h-2zM1343 316h1v1h-1zM1058 317h2v1h-2zM1198 317h1v1h-1zM1344 317h2v1h-2zM1060 318h3v1h-3zM1197 318h1v1h-1zM1346 318h2v1h-2zM1063 319h2v1h-2zM1195 319h2v1h-2zM1348 319h2v1h-2zM1065 320h6v1h-6zM1194 320h1v1h-1zM1350 320h2v1h-2zM1071 321h8v1h-8zM1192 321h2v1h-2zM1352 321h2v1h-2zM1079 322h8v1h-8zM1191 322h1v1h-1zM1354 322h2v1h-2zM1087 323h24v1h-24zM1189 323h2v1h-2zM1356 323h2v1h-2zM1111 324h6v1h-6zM1187 324h2v1h-2zM1358 324h2v1h-2zM1117 325h4v1h-4zM1185 325h2v1h-2zM1360 325h2v1h-2zM1121 326h6v1h-6zM1183 326h2v1h-2zM1362 326h1v1h-1zM1127 327h5v1h-5zM1180 327h3v1h-3zM1132 328h3v1h-3zM1177 328h3v1h-3zM1135 329h2v1h-2zM1175 329h2v1h-2zM1137 330h4v1h-4zM1172 330h3v1h-3zM1141 331h4v1h-4zM1169 331h3v1h-3zM1145 332h4v1h-4zM1165 332h4v1h-4zM1149 333h4v1h-4zM1159 333h6v1h-6zM1153 334h6v1h-6z" fill="#ffa500"/>
<path d="M2 83h3v1h-3zM205 83h4v1h-4zM5 82h4v1h-4zM201 82h4v1h-4zM9 81h6v1h-6zM199 81h2v1h-2zM15 80h8v1h-8zM196 80h3v1h-3zM23 79h8v1h-8zM193 79h3v1h-3zM31 78h8v1h-8zM189 78h4v1h-4zM39 77h8v1h-8zM185 77h4v1h-4zM47 76h16v1h-16zM181 76h4v1h-4zM63 75h16v1h-16zM177 75h4v1h-4zM79 74h8v1h-8zM173 74h4v1h-4zM87 73h8v1h-8zM169 73h4v1h-4zM95 72h8v1h-8zM165 72h4v1h-4zM103 71h8v1h-8zM161 71h4v1h-4zM111 70h8v1h-8zM157 70h4v1h-4zM119 69h16v1h-16zM151 69h6v1h-6zM135 68h16v1h-16zM209 84h3v1h-3zM212 85h3v1h-3zM215 86h2v1h-2zM217 87h4v1h-4zM221 88h4v1h-4zM225 89h3v1h-3zM228 90h3v1h-3zM231 91h2v1h-2zM233 92h3v1h-3zM236 93h3v1h-3zM239 94h2v1h-2zM241 95h3v1h-3zM244 96h3v1h-3zM247 97h2v1h-2zM249 98h3v1h-3zM252 99h2v1h-2zM254 100h2v1h-2zM256 101h2v1h-2zM258 102h2v1h-2zM260 103h3v1h-3zM263 104h2v1h-2zM265 105h3v1h-3zM268 106h2v1h-2zM270 107h2v1h-2zM272 108h2v1h-2zM274 109h2v1h-2zM276 110h3v1h-3zM279 111h2v1h-2zM281 112h3v1h-3zM284 113h2v1h-2zM286 114h2v1h-2zM288 115h2v1h-2zM290 116h2v1h-2zM292 117h2v1h-2zM294 118h2v1h-2zM296 119h2v1h-2zM298 120h1v1h-1zM299 121h2v1h-2zM301 122h2v1h-2zM303 123h1v1h-1zM304 124h2v1h-2zM306 125h1v1h-1zM307 126h2v1h-2zM309 127h2v1h-2zM311 128h1v1h-1zM312 129h2v1h-2zM314 130h1v1h-1zM315 131h2v1h-2zM317 132h1v1h-1zM318 133h1v1h-1zM319 134h2v1h-2zM321 135h1v1h-1zM322 136h1v1h-1zM323 137h2v1h-2zM325 138h2v1h-2zM327 139h1v1h-1zM328 140h2v1h-2zM330 141h2v1h-2zM332 142h2v1h-2zM334 143h2v1h-2zM336 144h2v1h-2zM338 145h2v1h-2zM340 146h2v1h-2zM342 147h2v1h-2zM344 148h2v1h-2zM346 149h2v1h-2zM348 150h2v1h-2zM350 151h2v1h-2zM352 152h2v1h-2zM354 153h2v1h-2zM356 154h3v1h-3zM359 155h2v1h-2zM361 156h3v1h-3zM364 157h2v1h-2zM847 157h40v1h-40zM366 158h2v1h-2zM839 158h8v1h-8zM887 158h6v1h-6zM368 159h2v1h-2zM833 159h6v1h-6zM893 159h4v1h-4zM370 160h2v1h-2zM829 160h4v1h-4zM897 160h3v1h-3zM372 161h3v1h-3zM825 161h4v1h-4zM900 161h3v1h-3zM375 162h2v1h-2zM821 162h4v1h-4zM903 162h2v1h-2zM377 163h3v1h-3zM818 163h3v1h-3zM905 163h3v1h-3zM380 164h2v1h-2zM816 164h2v1h-2zM908 164h3v1h-3zM382 165h2v1h-2zM814 165h2v1h-2zM911 165h2v1h-2zM384 166h2v1h-2zM812 166h2v1h-2zM913 166h4v1h-4zM386 167h2v1h-2zM809 167h3v1h-3zM917 167h4v1h-4zM388 168h3v1h-3zM807 168h2v1h-2zM921 168h3v1h-3zM391 169h2v1h-2zM804 169h3v1h-3zM924 169h3v1h-3zM393 170h4v1h-4zM801 170h3v1h-3zM927 170h2v1h-2zM397 171h4v1h-4zM799 171h2v1h-2zM929 171h4v1h-4zM401 172h4v1h-4zM796 172h3v1h-3zM933 172h4v1h-4zM405 173h4v1h-4zM794 173h2v1h-2zM937 173h3v1h-3zM409 174h4v1h-4zM792 174h2v1h-2zM940 174h3v1h-3zM413 175h4v1h-4zM790 175h2v1h-2zM943 175h2v1h-2zM417 176h4v1h-4zM788 176h2v1h-2zM945 176h4v1h-4zM421 177h4v1h-4zM786 177h2v1h-2zM949 177h4v1h-4zM425 178h3v1h-3zM784 178h2v1h-2zM953 178h3v1h-3zM428 179h3v1h-3zM782 179h2v1h-2zM956 179h3v1h-3zM431 180h2v1h-2zM780 180h2v1h-2zM959 180h2v1h-2zM433 181h4v1h-4zM778 181h2v1h-2zM961 181h4v1h-4zM437 182h4v1h-4zM776 182h2v1h-2zM965 182h4v1h-4zM441 183h4v1h-4zM775 183h1v1h-1zM969 183h6v1h-6zM445 184h4v1h-4zM773 184h2v1h-2zM975 184h8v1h-8zM449 185h4v1h-4zM771 185h2v1h-2zM983 185h8v1h-8zM453 186h4v1h-4zM770 186h1v1h-1zM991 186h5v1h-5zM457 187h4v1h-4zM768 187h2v1h-2zM996 187h3v1h-3zM461 188h4v1h-4zM767 188h1v1h-1zM999 188h2v1h-2zM465 189h4v1h-4zM765 189h2v1h-2zM1001 189h3v1h-3zM469 190h4v1h-4zM763 190h2v1h-2zM1004 190h3v1h-3zM473 191h4v1h-4zM762 191h1v1h-1zM1007 191h2v1h-2zM477 192h4v1h-4zM760 192h2v1h-2zM1009 192h3v1h-3zM481 193h4v1h-4zM759 193h1v1h-1zM1012 193h2v1h-2zM485 194h4v1h-4zM757 194h2v1h-2zM1014 194h2v1h-2zM489 195h6v1h-6zM755 195h2v1h-2zM1016 195h2v1h-2zM495 196h6v1h-6zM754 196h1v1h-1zM1018 196h2v1h-2zM501 197h4v1h-4zM752 197h2v1h-2zM1020 197h2v1h-2zM505 198h4v1h-4zM751 198h1v1h-1zM1022 198h2v1h-2zM509 199h4v1h-4zM749 199h2v1h-2zM1024 199h2v1h-2zM513 200h6v1h-6zM747 200h2v1h-2zM1026 200h2v1h-2zM519 201h6v1h-6zM746 201h1v1h-1zM1028 201h2v1h-2zM525 202h4v1h-4zM744 202h2v1h-2zM1030 202h2v1h-2zM529 203h4v1h-4zM743 203h1v1h-1zM1032 203h2v1h-2zM533 204h4v1h-4zM741 204h2v1h-2zM1034 204h2v1h-2zM537 205h4v1h-4zM739 205h2v1h-2zM1036 205h2v1h-2zM541 206h4v1h-4zM737 206h2v1h-2zM1038 206h2v1h-2zM545 207h4v1h-4zM735 207h2v1h-2zM1040 207h2v1h-2zM549 208h4v1h-4zM732 208h3v1h-3zM1042 208h2v1h-2zM553 209h3v1h-3zM729 209h3v1h-3zM1044 209h3v1h-3zM556 210h3v1h-3zM725 210h4v1h-4zM1047 210h2v1h-2zM559 211h2v1h-2zM719 211h6v1h-6zM1049 211h2v1h-2zM561 212h4v1h-4zM711 212h8v1h-8zM1051 212h2v1h-2zM565 213h4v1h-4zM705 213h6v1h-6zM1053 213h2v1h-2zM569 214h4v1h-4zM701 214h4v1h-4zM1055 214h1v1h-1zM573 215h4v1h-4zM695 215h6v1h-6zM1056 215h2v1h-2zM577 216h3v1h-3zM687 216h8v1h-8zM1058 216h2v1h-2zM580 217h3v1h-3zM679 217h8v1h-8zM1060 217h2v1h-2zM583 218h2v1h-2zM673 218h6v1h-6zM1062 218h2v1h-2zM585 219h6v1h-6zM669 219h4v1h-4zM1064 219h2v1h-2zM591 220h8v1h-8zM665 220h4v1h-4zM1066 220h2v1h-2zM599 221h8v1h-8zM661 221h4v1h-4zM1068 221h3v1h-3zM607 222h54v1h-54zM1071 222h2v1h-2zM1073 223h3v1h-3zM1076 224h3v1h-3zM1079 225h2v1h-2zM1081 226h3v1h-3zM1084 227h3v1h-3zM1087 228h2v1h-2zM1089 229h3v1h-3zM1092 230h3v1h-3zM1095 231h2v1h-2zM1097 232h4v1h-4zM1101 233h4v1h-4zM1105 234h3v1h-3zM1108 235h3v1h-3zM1111 236h2v1h-2zM1113 237h3v1h-3zM1116 238h3v1h-3zM1119 239h2v1h-2zM1121 240h3v1h-3zM1124 241h2v1h-2zM1126 242h2v1h-2zM1128 243h2v1h-2zM1130 244h1v1h-1zM1131 245h2v1h-2zM1133 246h2v1h-2zM1135 247h1v1h-1zM1136 248h2v1h-2zM1138 249h2v1h-2zM1140 250h2v1h-2zM1142 251h2v1h-2zM1144 252h2v1h-2zM1146 253h2v1h-2zM1148 254h3v1h-3zM1151 255h2v1h-2zM1153 256h3v1h-3zM1156 257h3v1h-3zM1159 258h2v1h-2zM1161 259h3v1h-3zM1164 260h3v1h-3zM1167 261h2v1h-2zM1169 262h3v1h-3zM1172 263h3v1h-3zM1175 264h2v1h-2zM1177 265h3v1h-3zM1180 266h3v1h-3zM1183 267h2v1h-2zM1185 268h3v1h-3zM1188 269h2v1h-2zM1190 270h2v1h-2zM1192 271h2v1h-2zM1194 272h2v1h-2zM1196 273h3v1h-3zM1199 274h2v1h-2zM1201 275h3v1h-3zM1204 276h2v1h-2zM1206 277h2v1h-2zM1208 278h2v1h-2zM1210 279h3v1h-3zM1213 280h4v1h-4zM1217 281h3v1h-3zM1220 282h3v1h-3zM1223 283h2v1h-2zM1225 284h3v1h-3zM1228 285h3v1h-3zM1231 286h2v1h-2zM1233 287h4v1h-4zM1237 288h4v1h-4zM1241 289h4v1h-4zM1245 290h4v1h-4zM1249 291h3v1h-3zM1252 292h3v1h-3zM1255 293h2v1h-2zM1257 294h4v1h-4zM1261 295h4v1h-4zM1265 296h3v1h-3zM1268 297h3v1h-3zM1271 298h2v1h-2zM1273 299h4v1h-4zM1277 300h4v1h-4zM1281 301h3v1h-3zM1284 302h3v1h-3zM1287 303h2v1h-2zM1289 304h4v1h-4zM1293 305h4v1h-4zM1297 306h4v1h-4zM1301 307h4v1h-4zM1305 308h4v1h-4zM1309 309h4v1h-4zM1313 310h3v1h-3zM1316 311h3v1h-3zM1319 312h2v1h-2zM1321 313h6v1h-6zM1327 314h8v1h-8zM1335 315h8v1h-8zM1343 316h8v1h-8zM1351 317h8v1h-8zM1359 318h4v1h-4z" fill="#ff00ff"/>
<rect x="2" y="61" width="1384" height="2" fill="#ff0000"/>
<rect x="2" y="198" width="1384" height="2" fill="#ff0000"/>
<rect x="2" y="335" width="1384" height="2" fill="#32cd32"/>
<rect x="1" y="2" width="1386" height="1" fill="#000"/>
<rect x="1" y="445" width="1386" height="1" fill="#000"/>
<rect x="1" y="2" width="1" height="444" fill="#000"/>
<rect x="1386" y="2" width="1" height="444" fill="#000"/>
<rect x="1" y="447" width="1386" height="1" fill="#000"/>
<rect x="1" y="579" width="1386" height="1" fill="#000"/>
<rect x="1" y="447" width="1" height="133" fill="#000"/>
<rect x="1386" y="447" width="1" height="133" fill="#000"/>
<rect x="1" y="581" width="1386" height="1" fill="#000"/>
<rect x="1" y="701" width="1386" height="1" fill="#000"/>
<rect x="1" y="581" width="1" height="121" fill="#000"/>
<rect x="1386" y="581" width="1" height="121" fill="#000"/>
<rect x="1387" y="13" width="2" height="1" fill="#000"/>
<text x="1392" y="17" fill="#000" font-size="10.2" textLength="28.0" lengthAdjust="spacingAndGlyphs">75.740</text>
<rect x="1387" y="46" width="2" height="1" fill="#000"/>
<text x="1392" y="50" fill="#000" font-size="10.2" textLength="28.0" lengthAdjust="spacingAndGlyphs">74.915</text>
<rect x="1387" y="79" width="2" height="1" fill="#000"/>
<text x="1392" y="83" fill="#000" font-size="10.2" textLength="28.0" lengthAdjust="spacingAndGlyphs">74.065</text>
<rect x="1387" y="112" width="2" height="1" fill="#000"/>
<text x="1392" y="116" fill="#000" font-size="10.2" textLength="28.0" lengthAdjust="spacingAndGlyphs">73.215</text>
<rect x="1387" y="145" width="2" height="1" fill="#000"/>
<text x="1392" y="149" fill="#000" font-size="10.2" textLength="28.0" lengthAdjust="spacingAndGlyphs">72.390</text>
<rect x="1387" y="178" width="2" height="1" fill="#000"/>
<text x="1392" y="182" fill="#000" font-size="10.2" textLength="28.0" lengthAdjust="spacingAndGlyphs">71.540</text>
<rect x="1387" y="211" width="2" height="1" fill="#000"/>
<text x="1392" y="215" fill="#000" font-size="10.2" textLength="28.0" lengthAdjust="spacingAndGlyphs">70.690</text>
<rect x="1387" y="244" width="2" height="1" fill="#000"/>
<text x="1392" y="248" fill="#000" font-size="10.2" textLength="28.0" lengthAdjust="spacingAndGlyphs">69.865</text>
<rect x="1387" y="277" width="2" height="1" fill="#000"/>
<text x="1392" y="281" fill="#000" font-size="10.2" textLength="28.0" lengthAdjust="spacingAndGlyphs">69.015</text>
<rect x="1387" y="310" width="2" height="1" fill="#000"/>
<text x="1392" y="314" fill="#000" font-size="10.2" textLength="28.0" lengthAdjust="spacingAndGlyphs">68.165</text>
<rect x="1387" y="343" width="2" height="1" fill="#000"/>
<text x="1392" y="347" fill="#000" font-size="10.2" textLength="28.0" lengthAdjust="spacingAndGlyphs">67.340</text>
<rect x="1387" y="376" width="2" height="1" fill="#000"/>
<text x="1392" y="380" fill="#000" font-size="10.2" textLength="28.0" lengthAdjust="spacingAndGlyphs">66.490</text>
<rect x="1387" y="409" width="2" height="1" fill="#000"/>
<text x="1392" y="413" fill="#000" font-size="10.2" textLength="28.0" lengthAdjust="spacingAndGlyphs">65.640</text>
<rect x="1387" y="442" width="2" height="1" fill="#000"/>
<text x="1392" y="446" fill="#000" font-size="10.2" textLength="28.0" lengthAdjust="spacingAndGlyphs">64.815</text>
<rect x="1388" y="56" width="36" height="11" fill="#ff0000"/>
<text x="1392" y="65" fill="#fff" font-size="10.2" textLength="28.0" lengthAdjust="spacingAndGlyphs">74.500</text>
<rect x="1388" y="193" width="36" height="11" fill="#ff0000"/>
<text x="1392" y="202" fill="#fff" font-size="10.2" textLength="28.0" lengthAdjust="spacingAndGlyphs">71.000</text>
<rect x="1388" y="365" width="36" height="11" fill="#000"/>
<text x="1392" y="374" fill="#fff" font-size="10.2" textLength="28.0" lengthAdjust="spacingAndGlyphs">66.650</text>
<rect x="1388" y="330" width="36" height="11" fill="#32cd32"/>
<text x="1392" y="339" fill="#fff" font-size="10.2" textLength="28.0" lengthAdjust="spacingAndGlyphs">67.500</text>
<rect x="5" y="9" width="7" height="1" fill="#000"/>
<rect x="6" y="10" width="5" height="1" fill="#000"/>
<rect x="7" y="11" width="3" height="1" fill="#000"/>
<rect x="8" y="12" width="1" height="1" fill="#000"/>
<text x="17" y="14" fill="#000" font-size="10.2" textLength="43.5" lengthAdjust="spacingAndGlyphs">USOil-,H4</text>
<text x="65.7" y="14" fill="#000" font-size="10.2" textLength="28.0" lengthAdjust="spacingAndGlyphs">66.750</text>
<text x="96.9" y="14" fill="#000" font-size="10.2" textLength="28.0" lengthAdjust="spacingAndGlyphs">66.780</text>
<text x="128" y="14" fill="#000" font-size="10.2" textLength="28.0" lengthAdjust="spacingAndGlyphs">66.420</text>
<text x="159.3" y="14" fill="#000" font-size="10.2" textLength="28.0" lengthAdjust="spacingAndGlyphs">66.650</text>
<text x="1082" y="132" fill="#ed1c24" font-size="37" textLength="250" lengthAdjust="spacingAndGlyphs" style="font-family:'Liberation Sans','Noto Sans CJK SC',sans-serif">多空转折点67.5</text>
<rect x="2" y="488" width="1" height="11" fill="#c0c0c0"/>
<rect x="10" y="488" width="1" height="5" fill="#c0c0c0"/>
<rect x="26" y="485" width="1" height="4" fill="#c0c0c0"/>
<rect x="34" y="483" width="1" height="6" fill="#c0c0c0"/>
<rect x="42" y="484" width="1" height="5" fill="#c0c0c0"/>
<rect x="50" y="485" width="1" height="4" fill="#c0c0c0"/>
<rect x="58" y="485" width="1" height="4" fill="#c0c0c0"/>
<rect x="66" y="484" width="1" height="5" fill="#c0c0c0"/>
<rect x="74" y="483" width="1" height="6" fill="#c0c0c0"/>
<rect x="82" y="482" width="1" height="7" fill="#c0c0c0"/>
<rect x="90" y="481" width="1" height="8" fill="#c0c0c0"/>
<rect x="98" y="480" width="1" height="9" fill="#c0c0c0"/>
<rect x="106" y="478" width="1" height="11" fill="#c0c0c0"/>
<rect x="114" y="475" width="1" height="14" fill="#c0c0c0"/>
<rect x="122" y="474" width="1" height="15" fill="#c0c0c0"/>
<rect x="130" y="473" width="1" height="16" fill="#c0c0c0"/>
<rect x="138" y="473" width="1" height="16" fill="#c0c0c0"/>
<rect x="146" y="473" width="1" height="16" fill="#c0c0c0"/>
<rect x="154" y="478" width="1" height="11" fill="#c0c0c0"/>
<rect x="162" y="486" width="1" height="3" fill="#c0c0c0"/>
<rect x="170" y="488" width="1" height="3" fill="#c0c0c0"/>
<rect x="178" y="488" width="1" height="8" fill="#c0c0c0"/>
<rect x="186" y="488" width="1" height="15" fill="#c0c0c0"/>
<rect x="194" y="488" width="1" height="20" fill="#c0c0c0"/>
<rect x="202" y="488" width="1" height="21" fill="#c0c0c0"/>
<rect x="210" y="488" width="1" height="25" fill="#c0c0c0"/>
<rect x="218" y="488" width="1" height="31" fill="#c0c0c0"/>
<rect x="226" y="488" width="1" height="34" fill="#c0c0c0"/>
<rect x="234" y="488" width="1" height="35" fill="#c0c0c0"/>
<rect x="242" y="488" width="1" height="36" fill="#c0c0c0"/>
<rect x="250" y="488" width="1" height="35" fill="#c0c0c0"/>
<rect x="258" y="488" width="1" height="35" fill="#c0c0c0"/>
<rect x="266" y="488" width="1" height="36" fill="#c0c0c0"/>
<rect x="274" y="488" width="1" height="36" fill="#c0c0c0"/>
<rect x="282" y="488" width="1" height="37" fill="#c0c0c0"/>
<rect x="290" y="488" width="1" height="38" fill="#c0c0c0"/>
<rect x="298" y="488" width="1" height="45" fill="#c0c0c0"/>
<rect x="306" y="488" width="1" height="57" fill="#c0c0c0"/>
<rect x="314" y="488" width="1" height="69" fill="#c0c0c0"/>
<rect x="322" y="488" width="1" height="75" fill="#c0c0c0"/>
<rect x="330" y="488" width="1" height="81" fill="#c0c0c0"/>
<rect x="338" y="488" width="1" height="82" fill="#c0c0c0"/>
<rect x="346" y="488" width="1" height="85" fill="#c0c0c0"/>
<rect x="354" y="488" width="1" height="83" fill="#c0c0c0"/>
<rect x="362" y="488" width="1" height="79" fill="#c0c0c0"/>
<rect x="370" y="488" width="1" height="78" fill="#c0c0c0"/>
<rect x="378" y="488" width="1" height="77" fill="#c0c0c0"/>
<rect x="386" y="488" width="1" height="72" fill="#c0c0c0"/>
<rect x="394" y="488" width="1" height="65" fill="#c0c0c0"/>
<rect x="402" y="488" width="1" height="50" fill="#c0c0c0"/>
<rect x="410" y="488" width="1" height="38" fill="#c0c0c0"/>
<rect x="418" y="488" width="1" height="28" fill="#c0c0c0"/>
<rect x="426" y="488" width="1" height="21" fill="#c0c0c0"/>
<rect x="434" y="488" width="1" height="14" fill="#c0c0c0"/>
<rect x="442" y="488" width="1" height="6" fill="#c0c0c0"/>
<rect x="450" y="488" width="1" height="2" fill="#c0c0c0"/>
<rect x="458" y="480" width="1" height="9" fill="#c0c0c0"/>
<rect x="466" y="474" width="1" height="15" fill="#c0c0c0"/>
<rect x="474" y="469" width="1" height="20" fill="#c0c0c0"/>
<rect x="482" y="465" width="1" height="24" fill="#c0c0c0"/>
<rect x="490" y="462" width="1" height="27" fill="#c0c0c0"/>
<rect x="498" y="461" width="1" height="28" fill="#c0c0c0"/>
<rect x="506" y="459" width="1" height="30" fill="#c0c0c0"/>
<rect x="514" y="457" width="1" height="32" fill="#c0c0c0"/>
<rect x="522" y="455" width="1" height="34" fill="#c0c0c0"/>
<rect x="530" y="457" width="1" height="32" fill="#c0c0c0"/>
<rect x="538" y="461" width="1" height="28" fill="#c0c0c0"/>
<rect x="546" y="462" width="1" height="27" fill="#c0c0c0"/>
<rect x="554" y="463" width="1" height="26" fill="#c0c0c0"/>
<rect x="562" y="462" width="1" height="27" fill="#c0c0c0"/>
<rect x="570" y="462" width="1" height="27" fill="#c0c0c0"/>
<rect x="578" y="462" width="1" height="27" fill="#c0c0c0"/>
<rect x="586" y="464" width="1" height="25" fill="#c0c0c0"/>
<rect x="594" y="465" width="1" height="24" fill="#c0c0c0"/>
<rect x="602" y="468" width="1" height="21" fill="#c0c0c0"/>
<rect x="610" y="469" width="1" height="20" fill="#c0c0c0"/>
<rect x="618" y="470" width="1" height="19" fill="#c0c0c0"/>
<rect x="626" y="470" width="1" height="19" fill="#c0c0c0"/>
<rect x="634" y="471" width="1" height="18" fill="#c0c0c0"/>
<rect x="642" y="472" width="1" height="17" fill="#c0c0c0"/>
<rect x="650" y="472" width="1" height="17" fill="#c0c0c0"/>
<rect x="658" y="472" width="1" height="17" fill="#c0c0c0"/>
<rect x="666" y="471" width="1" height="18" fill="#c0c0c0"/>
<rect x="674" y="470" width="1" height="19" fill="#c0c0c0"/>
<rect x="682" y="468" width="1" height="21" fill="#c0c0c0"/>
<rect x="690" y="467" width="1" height="22" fill="#c0c0c0"/>
<rect x="698" y="465" width="1" height="24" fill="#c0c0c0"/>
<rect x="706" y="463" width="1" height="26" fill="#c0c0c0"/>
<rect x="714" y="462" width="1" height="27" fill="#c0c0c0"/>
<rect x="722" y="462" width="1" height="27" fill="#c0c0c0"/>
<rect x="730" y="462" width="1" height="27" fill="#c0c0c0"/>
<rect x="738" y="462" width="1" height="27" fill="#c0c0c0"/>
<rect x="746" y="461" width="1" height="28" fill="#c0c0c0"/>
<rect x="754" y="461" width="1" height="28" fill="#c0c0c0"/>
<rect x="762" y="461" width="1" height="28" fill="#c0c0c0"/>
<rect x="770" y="461" width="1" height="28" fill="#c0c0c0"/>
<rect x="778" y="464" width="1" height="25" fill="#c0c0c0"/>
<rect x="786" y="467" width="1" height="22" fill="#c0c0c0"/>
<rect x="794" y="470" width="1" height="19" fill="#c0c0c0"/>
<rect x="802" y="481" width="1" height="8" fill="#c0c0c0"/>
<rect x="810" y="487" width="1" height="2" fill="#c0c0c0"/>
<rect x="818" y="488" width="1" height="3" fill="#c0c0c0"/>
<rect x="826" y="488" width="1" height="8" fill="#c0c0c0"/>
<rect x="834" y="488" width="1" height="10" fill="#c0c0c0"/>
<rect x="842" y="488" width="1" height="13" fill="#c0c0c0"/>
<rect x="850" y="488" width="1" height="17" fill="#c0c0c0"/>
<rect x="858" y="488" width="1" height="20" fill="#c0c0c0"/>
<rect x="866" y="488" width="1" height="23" fill="#c0c0c0"/>
<rect x="874" y="488" width="1" height="25" fill="#c0c0c0"/>
<rect x="882" y="488" width="1" height="26" fill="#c0c0c0"/>
<rect x="890" y="488" width="1" height="32" fill="#c0c0c0"/>
<rect x="898" y="488" width="1" height="40" fill="#c0c0c0"/>
<rect x="906" y="488" width="1" height="47" fill="#c0c0c0"/>
<rect x="914" y="488" width="1" height="51" fill="#c0c0c0"/>
<rect x="922" y="488" width="1" height="53" fill="#c0c0c0"/>
<rect x="930" y="488" width="1" height="54" fill="#c0c0c0"/>
<rect x="938" y="488" width="1" height="55" fill="#c0c0c0"/>
<rect x="946" y="488" width="1" height="52" fill="#c0c0c0"/>
<rect x="954" y="488" width="1" height="49" fill="#c0c0c0"/>
<rect x="962" y="488" width="1" height="45" fill="#c0c0c0"/>
<rect x="970" y="488" width="1" height="41" fill="#c0c0c0"/>
<rect x="978" y="488" width="1" height="37" fill="#c0c0c0"/>
<rect x="986" y="488" width="1" height="31" fill="#c0c0c0"/>
<rect x="994" y="488" width="1" height="33" fill="#c0c0c0"/>
<rect x="1002" y="488" width="1" height="34" fill="#c0c0c0"/>
<rect x="1010" y="488" width="1" height="35" fill="#c0c0c0"/>
<rect x="1018" y="488" width="1" height="39" fill="#c0c0c0"/>
<rect x="1026" y="488" width="1" height="43" fill="#c0c0c0"/>
<rect x="1034" y="488" width="1" height="49" fill="#c0c0c0"/>
<rect x="1042" y="488" width="1" height="53" fill="#c0c0c0"/>
<rect x="1050" y="488" width="1" height="54" fill="#c0c0c0"/>
<rect x="1058" y="488" width="1" height="53" fill="#c0c0c0"/>
<rect x="1066" y="488" width="1" height="50" fill="#c0c0c0"/>
<rect x="1074" y="488" width="1" height="48" fill="#c0c0c0"/>
<rect x="1082" y="488" width="1" height="42" fill="#c0c0c0"/>
<rect x="1090" y="488" width="1" height="38" fill="#c0c0c0"/>
<rect x="1098" y="488" width="1" height="31" fill="#c0c0c0"/>
<rect x="1106" y="488" width="1" height="25" fill="#c0c0c0"/>
<rect x="1114" y="488" width="1" height="20" fill="#c0c0c0"/>
<rect x="1122" y="488" width="1" height="17" fill="#c0c0c0"/>
<rect x="1130" y="488" width="1" height="14" fill="#c0c0c0"/>
<rect x="1138" y="488" width="1" height="15" fill="#c0c0c0"/>
<rect x="1146" y="488" width="1" height="14" fill="#c0c0c0"/>
<rect x="1154" y="488" width="1" height="7" fill="#c0c0c0"/>
<rect x="1162" y="488" width="1" height="2" fill="#c0c0c0"/>
<rect x="1170" y="487" width="1" height="2" fill="#c0c0c0"/>
<rect x="1178" y="483" width="1" height="6" fill="#c0c0c0"/>
<rect x="1186" y="482" width="1" height="7" fill="#c0c0c0"/>
<rect x="1194" y="480" width="1" height="9" fill="#c0c0c0"/>
<rect x="1202" y="480" width="1" height="9" fill="#c0c0c0"/>
<rect x="1210" y="480" width="1" height="9" fill="#c0c0c0"/>
<rect x="1218" y="481" width="1" height="8" fill="#c0c0c0"/>
<rect x="1226" y="482" width="1" height="7" fill="#c0c0c0"/>
<rect x="1234" y="481" width="1" height="8" fill="#c0c0c0"/>
<rect x="1242" y="480" width="1" height="9" fill="#c0c0c0"/>
<rect x="1250" y="486" width="1" height="3" fill="#c0c0c0"/>
<rect x="1266" y="488" width="1" height="2" fill="#c0c0c0"/>
<rect x="1274" y="488" width="1" height="4" fill="#c0c0c0"/>
<rect x="1282" y="488" width="1" height="9" fill="#c0c0c0"/>
<rect x="1290" y="488" width="1" height="10" fill="#c0c0c0"/>
<rect x="1298" y="488" width="1" height="11" fill="#c0c0c0"/>
<rect x="1306" y="488" width="1" height="12" fill="#c0c0c0"/>
<rect x="1314" y="488" width="1" height="13" fill="#c0c0c0"/>
<rect x="1322" y="488" width="1" height="14" fill="#c0c0c0"/>
<rect x="1330" y="488" width="1" height="16" fill="#c0c0c0"/>
<rect x="1338" y="488" width="1" height="18" fill="#c0c0c0"/>
<rect x="1346" y="488" width="1" height="19" fill="#c0c0c0"/>
<rect x="1354" y="488" width="1" height="20" fill="#c0c0c0"/>
<rect x="1362" y="488" width="1" height="21" fill="#c0c0c0"/>
<path d="M2 517h1v1h-1zM254 517h3v1h-3zM453 517h1v1h-1zM912 517h2v1h-2zM1134 517h2v1h-2zM3 516h2v1h-2zM250 516h1v1h-1zM911 516h1v1h-1zM8 513h2v1h-2zM244 513h1v1h-1zM456 513h1v1h-1zM905 513h1v1h-1zM10 512h1v1h-1zM242 512h2v1h-2zM457 512h1v1h-1zM1145 512h3v1h-3zM14 510h2v1h-2zM238 510h1v1h-1zM899 510h1v1h-1zM1151 510h1v1h-1zM16 509h1v1h-1zM236 509h2v1h-2zM895 509h1v1h-1zM1152 509h2v1h-2zM20 507h1v1h-1zM231 507h2v1h-2zM462 507h1v1h-1zM889 507h1v1h-1zM1157 507h1v1h-1zM21 506h2v1h-2zM230 506h1v1h-1zM462 506h1v1h-1zM887 506h2v1h-2zM1158 506h2v1h-2zM26 503h2v1h-2zM224 503h1v1h-1zM881 503h1v1h-1zM1164 503h2v1h-2zM1355 503h3v1h-3zM28 502h1v1h-1zM1349 502h3v1h-3zM32 500h2v1h-2zM219 500h2v1h-2zM468 500h1v1h-1zM875 500h1v1h-1zM1170 500h2v1h-2zM1343 500h2v1h-2zM34 499h1v1h-1zM218 499h1v1h-1zM469 499h1v1h-1zM1337 499h3v1h-3zM38 497h2v1h-2zM869 497h1v1h-1zM1177 497h1v1h-1zM1327 497h1v1h-1zM1331 497h2v1h-2zM40 496h1v1h-1zM213 496h2v1h-2zM473 496h1v1h-1zM1181 496h2v1h-2zM1321 496h1v1h-1zM1325 496h2v1h-2zM44 494h3v1h-3zM475 494h1v1h-1zM863 494h1v1h-1zM1187 494h1v1h-1zM1313 494h3v1h-3zM50 492h2v1h-2zM207 492h1v1h-1zM858 492h2v1h-2zM1307 492h2v1h-2zM52 491h1v1h-1zM206 491h1v1h-1zM479 491h2v1h-2zM857 491h1v1h-1zM1193 491h3v1h-3zM1301 491h3v1h-3zM56 490h1v1h-1zM481 490h1v1h-1zM1297 490h1v1h-1zM57 489h2v1h-2zM202 489h1v1h-1zM853 489h1v1h-1zM1199 489h2v1h-2zM1295 489h2v1h-2zM62 488h1v1h-1zM200 488h2v1h-2zM851 488h2v1h-2zM1201 488h1v1h-1zM63 487h2v1h-2zM1205 487h2v1h-2zM1289 487h3v1h-3zM68 486h3v1h-3zM196 486h1v1h-1zM485 486h2v1h-2zM1207 486h1v1h-1zM1285 486h1v1h-1zM74 485h3v1h-3zM194 485h2v1h-2zM487 485h1v1h-1zM846 485h2v1h-2zM1211 485h2v1h-2zM1279 485h1v1h-1zM1283 485h2v1h-2zM80 484h3v1h-3zM86 484h1v1h-1zM845 484h1v1h-1zM1213 484h1v1h-1zM1273 484h1v1h-1zM1277 484h2v1h-2zM87 483h2v1h-2zM92 483h3v1h-3zM190 483h1v1h-1zM1217 483h3v1h-3zM1271 483h2v1h-2zM98 482h3v1h-3zM188 482h2v1h-2zM840 482h2v1h-2zM1223 482h3v1h-3zM1229 482h2v1h-2zM1265 482h3v1h-3zM104 481h3v1h-3zM110 481h1v1h-1zM491 481h2v1h-2zM839 481h1v1h-1zM1231 481h1v1h-1zM1235 481h3v1h-3zM1255 481h1v1h-1zM1259 481h3v1h-3zM111 480h2v1h-2zM116 480h3v1h-3zM183 480h2v1h-2zM493 480h1v1h-1zM1241 480h3v1h-3zM1247 480h3v1h-3zM1253 480h2v1h-2zM122 479h3v1h-3zM182 479h1v1h-1zM835 479h1v1h-1zM128 478h3v1h-3zM134 478h1v1h-1zM176 478h3v1h-3zM834 478h1v1h-1zM135 477h2v1h-2zM140 477h3v1h-3zM170 477h3v1h-3zM497 477h1v1h-1zM833 477h1v1h-1zM146 476h3v1h-3zM165 476h2v1h-2zM498 476h1v1h-1zM152 475h3v1h-3zM158 475h3v1h-3zM164 475h1v1h-1zM499 475h1v1h-1zM828 475h2v1h-2zM208 493h1v1h-1zM1188 493h2v1h-2zM1309 493h1v1h-1zM212 495h1v1h-1zM474 495h1v1h-1zM864 495h2v1h-2zM1183 495h1v1h-1zM1319 495h2v1h-2zM225 504h1v1h-1zM882 504h2v1h-2zM1163 504h1v1h-1zM1361 504h2v1h-2zM226 505h1v1h-1zM463 505h1v1h-1zM248 515h2v1h-2zM1139 515h1v1h-1zM260 518h1v1h-1zM452 518h1v1h-1zM1133 518h1v1h-1zM261 519h2v1h-2zM451 519h1v1h-1zM266 520h3v1h-3zM917 520h2v1h-2zM1128 520h2v1h-2zM272 521h1v1h-1zM919 521h1v1h-1zM1127 521h1v1h-1zM273 522h2v1h-2zM278 522h1v1h-1zM279 523h2v1h-2zM284 523h3v1h-3zM447 523h1v1h-1zM923 523h1v1h-1zM1123 523h1v1h-1zM290 524h3v1h-3zM446 524h1v1h-1zM924 524h2v1h-2zM1122 524h1v1h-1zM296 525h3v1h-3zM302 525h1v1h-1zM446 525h1v1h-1zM1121 525h1v1h-1zM303 526h2v1h-2zM929 526h1v1h-1zM1019 526h3v1h-3zM1025 526h3v1h-3zM1031 526h3v1h-3zM1037 526h2v1h-2zM308 527h1v1h-1zM930 527h2v1h-2zM1013 527h3v1h-3zM1039 527h1v1h-1zM1043 527h2v1h-2zM1116 527h2v1h-2zM309 528h2v1h-2zM1009 528h1v1h-1zM1045 528h1v1h-1zM1115 528h1v1h-1zM314 531h2v1h-2zM440 531h1v1h-1zM941 531h2v1h-2zM997 531h1v1h-1zM1055 531h2v1h-2zM1109 531h1v1h-1zM316 532h1v1h-1zM943 532h1v1h-1zM995 532h2v1h-2zM1057 532h1v1h-1zM1105 532h1v1h-1zM320 534h2v1h-2zM948 534h2v1h-2zM985 534h1v1h-1zM1067 534h3v1h-3zM1097 534h3v1h-3zM322 535h1v1h-1zM436 535h1v1h-1zM983 535h2v1h-2zM1073 535h3v1h-3zM1079 535h3v1h-3zM1085 535h2v1h-2zM1093 535h1v1h-1zM326 538h1v1h-1zM327 539h2v1h-2zM332 542h1v1h-1zM429 542h1v1h-1zM333 543h2v1h-2zM428 543h1v1h-1zM338 546h1v1h-1zM339 547h2v1h-2zM424 547h1v1h-1zM344 550h2v1h-2zM346 551h1v1h-1zM350 553h1v1h-1zM417 553h1v1h-1zM351 554h1v1h-1zM416 554h1v1h-1zM352 555h1v1h-1zM356 557h1v1h-1zM411 557h2v1h-2zM357 558h2v1h-2zM410 558h1v1h-1zM362 561h2v1h-2zM406 561h1v1h-1zM364 562h1v1h-1zM405 562h1v1h-1zM368 564h2v1h-2zM370 565h1v1h-1zM374 565h1v1h-1zM398 565h3v1h-3zM375 566h2v1h-2zM380 566h3v1h-3zM386 566h3v1h-3zM392 566h3v1h-3zM404 563h1v1h-1zM418 552h1v1h-1zM422 549h1v1h-1zM423 548h1v1h-1zM430 541h1v1h-1zM434 537h1v1h-1zM959 537h3v1h-3zM965 537h3v1h-3zM971 537h3v1h-3zM435 536h1v1h-1zM953 536h3v1h-3zM977 536h3v1h-3zM1087 536h1v1h-1zM1091 536h2v1h-2zM441 530h1v1h-1zM937 530h1v1h-1zM1001 530h3v1h-3zM1110 530h2v1h-2zM442 529h1v1h-1zM935 529h2v1h-2zM1007 529h2v1h-2zM1049 529h3v1h-3zM458 511h1v1h-1zM900 511h2v1h-2zM467 501h1v1h-1zM876 501h2v1h-2zM1169 501h1v1h-1zM1345 501h1v1h-1zM503 473h1v1h-1zM504 472h2v1h-2zM822 472h2v1h-2zM509 470h2v1h-2zM671 470h3v1h-3zM677 470h3v1h-3zM683 470h3v1h-3zM817 470h1v1h-1zM511 469h1v1h-1zM665 469h3v1h-3zM689 469h3v1h-3zM695 469h3v1h-3zM701 469h2v1h-2zM815 469h2v1h-2zM515 468h1v1h-1zM655 468h1v1h-1zM659 468h3v1h-3zM703 468h1v1h-1zM707 468h3v1h-3zM516 467h2v1h-2zM647 467h3v1h-3zM653 467h2v1h-2zM713 467h3v1h-3zM809 467h3v1h-3zM521 465h1v1h-1zM631 465h1v1h-1zM635 465h3v1h-3zM727 465h1v1h-1zM731 465h3v1h-3zM804 465h2v1h-2zM522 464h2v1h-2zM623 464h3v1h-3zM629 464h2v1h-2zM737 464h3v1h-3zM803 464h1v1h-1zM527 462h2v1h-2zM607 462h1v1h-1zM611 462h3v1h-3zM751 462h1v1h-1zM755 462h3v1h-3zM791 462h3v1h-3zM529 461h1v1h-1zM533 461h2v1h-2zM593 461h3v1h-3zM599 461h3v1h-3zM605 461h2v1h-2zM761 461h3v1h-3zM767 461h3v1h-3zM773 461h3v1h-3zM779 461h3v1h-3zM785 461h3v1h-3zM535 460h1v1h-1zM539 460h3v1h-3zM583 460h1v1h-1zM587 460h3v1h-3zM545 459h3v1h-3zM551 459h3v1h-3zM557 459h3v1h-3zM563 459h3v1h-3zM569 459h3v1h-3zM575 459h3v1h-3zM581 459h2v1h-2zM617 463h3v1h-3zM743 463h3v1h-3zM749 463h2v1h-2zM797 463h3v1h-3zM641 466h3v1h-3zM719 466h3v1h-3zM725 466h2v1h-2zM821 471h1v1h-1zM827 474h1v1h-1zM870 498h2v1h-2zM1175 498h2v1h-2zM1333 498h1v1h-1zM893 508h2v1h-2zM906 514h2v1h-2zM1140 514h2v1h-2zM947 533h1v1h-1zM989 533h3v1h-3zM1061 533h3v1h-3zM1103 533h2v1h-2z" fill="#ff0000"/>
<text x="6.5" y="460" fill="#000" font-size="10.2" textLength="66.3" lengthAdjust="spacingAndGlyphs">MACD(12,26,9)</text>
<text x="74.8" y="460" fill="#000" font-size="10.2" textLength="30.5" lengthAdjust="spacingAndGlyphs">-0.4396</text>
<text x="108.9" y="460" fill="#000" font-size="10.2" textLength="30.8" lengthAdjust="spacingAndGlyphs">-0.3345</text>
<text x="1390" y="458" fill="#000" font-size="10.2" textLength="27.8" lengthAdjust="spacingAndGlyphs">0.7951</text>
<text x="1390" y="492" fill="#000" font-size="10.2" textLength="18.0" lengthAdjust="spacingAndGlyphs">0.00</text>
<text x="1390" y="576" fill="#000" font-size="10.2" textLength="30.7" lengthAdjust="spacingAndGlyphs">-1.8483</text>
<rect x="1387" y="449" width="1" height="1" fill="#000"/>
<rect x="1387" y="488" width="1" height="1" fill="#000"/>
<rect x="1387" y="578" width="1" height="1" fill="#000"/>
<path d="M3 618h3v1h-3zM9 618h3v1h-3zM15 618h3v1h-3zM21 618h3v1h-3zM27 618h3v1h-3zM33 618h3v1h-3zM39 618h3v1h-3zM45 618h3v1h-3zM51 618h3v1h-3zM57 618h3v1h-3zM63 618h3v1h-3zM69 618h3v1h-3zM75 618h3v1h-3zM81 618h3v1h-3zM87 618h3v1h-3zM93 618h3v1h-3zM99 618h3v1h-3zM105 618h3v1h-3zM111 618h3v1h-3zM117 618h3v1h-3zM123 618h3v1h-3zM129 618h3v1h-3zM135 618h3v1h-3zM141 618h3v1h-3zM147 618h3v1h-3zM153 618h3v1h-3zM159 618h3v1h-3zM165 618h3v1h-3zM171 618h3v1h-3zM177 618h3v1h-3zM183 618h3v1h-3zM189 618h3v1h-3zM195 618h3v1h-3zM201 618h3v1h-3zM207 618h3v1h-3zM213 618h3v1h-3zM219 618h3v1h-3zM225 618h3v1h-3zM231 618h3v1h-3zM237 618h3v1h-3zM243 618h3v1h-3zM249 618h3v1h-3zM255 618h3v1h-3zM261 618h3v1h-3zM267 618h3v1h-3zM273 618h3v1h-3zM279 618h3v1h-3zM285 618h3v1h-3zM291 618h3v1h-3zM297 618h3v1h-3zM303 618h3v1h-3zM309 618h3v1h-3zM315 618h3v1h-3zM321 618h3v1h-3zM327 618h3v1h-3zM333 618h3v1h-3zM339 618h3v1h-3zM345 618h3v1h-3zM351 618h3v1h-3zM357 618h3v1h-3zM363 618h3v1h-3zM369 618h3v1h-3zM375 618h3v1h-3zM381 618h3v1h-3zM387 618h3v1h-3zM393 618h3v1h-3zM399 618h3v1h-3zM405 618h3v1h-3zM411 618h3v1h-3zM417 618h3v1h-3zM423 618h3v1h-3zM429 618h3v1h-3zM435 618h3v1h-3zM441 618h3v1h-3zM447 618h3v1h-3zM453 618h3v1h-3zM459 618h3v1h-3zM465 618h3v1h-3zM471 618h3v1h-3zM477 618h3v1h-3zM483 618h3v1h-3zM489 618h3v1h-3zM495 618h3v1h-3zM501 618h3v1h-3zM507 618h3v1h-3zM513 618h3v1h-3zM519 618h3v1h-3zM525 618h3v1h-3zM531 618h3v1h-3zM537 618h3v1h-3zM543 618h3v1h-3zM549 618h3v1h-3zM555 618h3v1h-3zM561 618h3v1h-3zM567 618h3v1h-3zM573 618h3v1h-3zM579 618h3v1h-3zM585 618h3v1h-3zM591 618h3v1h-3zM597 618h3v1h-3zM603 618h3v1h-3zM609 618h3v1h-3zM615 618h3v1h-3zM621 618h3v1h-3zM627 618h3v1h-3zM633 618h3v1h-3zM639 618h3v1h-3zM645 618h3v1h-3zM651 618h3v1h-3zM657 618h3v1h-3zM663 618h3v1h-3zM669 618h3v1h-3zM675 618h3v1h-3zM681 618h3v1h-3zM687 618h3v1h-3zM693 618h3v1h-3zM699 618h3v1h-3zM705 618h3v1h-3zM711 618h3v1h-3zM717 618h3v1h-3zM723 618h3v1h-3zM729 618h3v1h-3zM735 618h3v1h-3zM741 618h3v1h-3zM747 618h3v1h-3zM753 618h3v1h-3zM759 618h3v1h-3zM765 618h3v1h-3zM771 618h3v1h-3zM777 618h3v1h-3zM783 618h3v1h-3zM789 618h3v1h-3zM795 618h3v1h-3zM801 618h3v1h-3zM807 618h3v1h-3zM813 618h3v1h-3zM819 618h3v1h-3zM825 618h3v1h-3zM831 618h3v1h-3zM837 618h3v1h-3zM843 618h3v1h-3zM849 618h3v1h-3zM855 618h3v1h-3zM861 618h3v1h-3zM867 618h3v1h-3zM873 618h3v1h-3zM879 618h3v1h-3zM885 618h3v1h-3zM891 618h3v1h-3zM897 618h3v1h-3zM903 618h3v1h-3zM909 618h3v1h-3zM915 618h3v1h-3zM921 618h3v1h-3zM927 618h3v1h-3zM933 618h3v1h-3zM939 618h3v1h-3zM945 618h3v1h-3zM951 618h3v1h-3zM957 618h3v1h-3zM963 618h3v1h-3zM969 618h3v1h-3zM975 618h3v1h-3zM981 618h3v1h-3zM987 618h3v1h-3zM993 618h3v1h-3zM999 618h3v1h-3zM1005 618h3v1h-3zM1011 618h3v1h-3zM1017 618h3v1h-3zM1023 618h3v1h-3zM1029 618h3v1h-3zM1035 618h3v1h-3zM1041 618h3v1h-3zM1047 618h3v1h-3zM1053 618h3v1h-3zM1059 618h3v1h-3zM1065 618h3v1h-3zM1071 618h3v1h-3zM1077 618h3v1h-3zM1083 618h3v1h-3zM1089 618h3v1h-3zM1095 618h3v1h-3zM1101 618h3v1h-3zM1107 618h3v1h-3zM1113 618h3v1h-3zM1119 618h3v1h-3zM1125 618h3v1h-3zM1131 618h3v1h-3zM1137 618h3v1h-3zM1143 618h3v1h-3zM1149 618h3v1h-3zM1155 618h3v1h-3zM1161 618h3v1h-3zM1167 618h3v1h-3zM1173 618h3v1h-3zM1179 618h3v1h-3zM1185 618h3v1h-3zM1191 618h3v1h-3zM1197 618h3v1h-3zM1203 618h3v1h-3zM1209 618h3v1h-3zM1215 618h3v1h-3zM1221 618h3v1h-3zM1227 618h3v1h-3zM1233 618h3v1h-3zM1239 618h3v1h-3zM1245 618h3v1h-3zM1251 618h3v1h-3zM1257 618h3v1h-3zM1263 618h3v1h-3zM1269 618h3v1h-3zM1275 618h3v1h-3zM1281 618h3v1h-3zM1287 618h3v1h-3zM1293 618h3v1h-3zM1299 618h3v1h-3zM1305 618h3v1h-3zM1311 618h3v1h-3zM1317 618h3v1h-3zM1323 618h3v1h-3zM1329 618h3v1h-3zM1335 618h3v1h-3zM1341 618h3v1h-3zM1347 618h3v1h-3zM1353 618h3v1h-3zM1359 618h3v1h-3zM1365 618h3v1h-3zM1371 618h3v1h-3zM1377 618h3v1h-3zM1383 618h3v1h-3z" fill="#c0c0c0"/>
<path d="M3 665h3v1h-3zM9 665h3v1h-3zM15 665h3v1h-3zM21 665h3v1h-3zM27 665h3v1h-3zM33 665h3v1h-3zM39 665h3v1h-3zM45 665h3v1h-3zM51 665h3v1h-3zM57 665h3v1h-3zM63 665h3v1h-3zM69 665h3v1h-3zM75 665h3v1h-3zM81 665h3v1h-3zM87 665h3v1h-3zM93 665h3v1h-3zM99 665h3v1h-3zM105 665h3v1h-3zM111 665h3v1h-3zM117 665h3v1h-3zM123 665h3v1h-3zM129 665h3v1h-3zM135 665h3v1h-3zM141 665h3v1h-3zM147 665h3v1h-3zM153 665h3v1h-3zM159 665h3v1h-3zM165 665h3v1h-3zM171 665h3v1h-3zM177 665h3v1h-3zM183 665h3v1h-3zM189 665h3v1h-3zM195 665h3v1h-3zM201 665h3v1h-3zM207 665h3v1h-3zM213 665h3v1h-3zM219 665h3v1h-3zM225 665h3v1h-3zM231 665h3v1h-3zM237 665h3v1h-3zM243 665h3v1h-3zM249 665h3v1h-3zM255 665h3v1h-3zM261 665h3v1h-3zM267 665h3v1h-3zM273 665h3v1h-3zM279 665h3v1h-3zM285 665h3v1h-3zM291 665h3v1h-3zM297 665h3v1h-3zM303 665h3v1h-3zM309 665h3v1h-3zM315 665h3v1h-3zM321 665h3v1h-3zM327 665h3v1h-3zM333 665h3v1h-3zM339 665h3v1h-3zM345 665h3v1h-3zM351 665h3v1h-3zM357 665h3v1h-3zM363 665h3v1h-3zM369 665h3v1h-3zM375 665h3v1h-3zM381 665h3v1h-3zM387 665h3v1h-3zM393 665h3v1h-3zM399 665h3v1h-3zM405 665h3v1h-3zM411 665h3v1h-3zM417 665h3v1h-3zM423 665h3v1h-3zM429 665h3v1h-3zM435 665h3v1h-3zM441 665h3v1h-3zM447 665h3v1h-3zM453 665h3v1h-3zM459 665h3v1h-3zM465 665h3v1h-3zM471 665h3v1h-3zM477 665h3v1h-3zM483 665h3v1h-3zM489 665h3v1h-3zM495 665h3v1h-3zM501 665h3v1h-3zM507 665h3v1h-3zM513 665h3v1h-3zM519 665h3v1h-3zM525 665h3v1h-3zM531 665h3v1h-3zM537 665h3v1h-3zM543 665h3v1h-3zM549 665h3v1h-3zM555 665h3v1h-3zM561 665h3v1h-3zM567 665h3v1h-3zM573 665h3v1h-3zM579 665h3v1h-3zM585 665h3v1h-3zM591 665h3v1h-3zM597 665h3v1h-3zM603 665h3v1h-3zM609 665h3v1h-3zM615 665h3v1h-3zM621 665h3v1h-3zM627 665h3v1h-3zM633 665h3v1h-3zM639 665h3v1h-3zM645 665h3v1h-3zM651 665h3v1h-3zM657 665h3v1h-3zM663 665h3v1h-3zM669 665h3v1h-3zM675 665h3v1h-3zM681 665h3v1h-3zM687 665h3v1h-3zM693 665h3v1h-3zM699 665h3v1h-3zM705 665h3v1h-3zM711 665h3v1h-3zM717 665h3v1h-3zM723 665h3v1h-3zM729 665h3v1h-3zM735 665h3v1h-3zM741 665h3v1h-3zM747 665h3v1h-3zM753 665h3v1h-3zM759 665h3v1h-3zM765 665h3v1h-3zM771 665h3v1h-3zM777 665h3v1h-3zM783 665h3v1h-3zM789 665h3v1h-3zM795 665h3v1h-3zM801 665h3v1h-3zM807 665h3v1h-3zM813 665h3v1h-3zM819 665h3v1h-3zM825 665h3v1h-3zM831 665h3v1h-3zM837 665h3v1h-3zM843 665h3v1h-3zM849 665h3v1h-3zM855 665h3v1h-3zM861 665h3v1h-3zM867 665h3v1h-3zM873 665h3v1h-3zM879 665h3v1h-3zM885 665h3v1h-3zM891 665h3v1h-3zM897 665h3v1h-3zM903 665h3v1h-3zM909 665h3v1h-3zM915 665h3v1h-3zM921 665h3v1h-3zM927 665h3v1h-3zM933 665h3v1h-3zM939 665h3v1h-3zM945 665h3v1h-3zM951 665h3v1h-3zM957 665h3v1h-3zM963 665h3v1h-3zM969 665h3v1h-3zM975 665h3v1h-3zM981 665h3v1h-3zM987 665h3v1h-3zM993 665h3v1h-3zM999 665h3v1h-3zM1005 665h3v1h-3zM1011 665h3v1h-3zM1017 665h3v1h-3zM1023 665h3v1h-3zM1029 665h3v1h-3zM1035 665h3v1h-3zM1041 665h3v1h-3zM1047 665h3v1h-3zM1053 665h3v1h-3zM1059 665h3v1h-3zM1065 665h3v1h-3zM1071 665h3v1h-3zM1077 665h3v1h-3zM1083 665h3v1h-3zM1089 665h3v1h-3zM1095 665h3v1h-3zM1101 665h3v1h-3zM1107 665h3v1h-3zM1113 665h3v1h-3zM1119 665h3v1h-3zM1125 665h3v1h-3zM1131 665h3v1h-3zM1137 665h3v1h-3zM1143 665h3v1h-3zM1149 665h3v1h-3zM1155 665h3v1h-3zM1161 665h3v1h-3zM1167 665h3v1h-3zM1173 665h3v1h-3zM1179 665h3v1h-3zM1185 665h3v1h-3zM1191 665h3v1h-3zM1197 665h3v1h-3zM1203 665h3v1h-3zM1209 665h3v1h-3zM1215 665h3v1h-3zM1221 665h3v1h-3zM1227 665h3v1h-3zM1233 665h3v1h-3zM1239 665h3v1h-3zM1245 665h3v1h-3zM1251 665h3v1h-3zM1257 665h3v1h-3zM1263 665h3v1h-3zM1269 665h3v1h-3zM1275 665h3v1h-3zM1281 665h3v1h-3zM1287 665h3v1h-3zM1293 665h3v1h-3zM1299 665h3v1h-3zM1305 665h3v1h-3zM1311 665h3v1h-3zM1317 665h3v1h-3zM1323 665h3v1h-3zM1329 665h3v1h-3zM1335 665h3v1h-3zM1341 665h3v1h-3zM1347 665h3v1h-3zM1353 665h3v1h-3zM1359 665h3v1h-3zM1365 665h3v1h-3zM1371 665h3v1h-3zM1377 665h3v1h-3zM1383 665h3v1h-3z" fill="#c0c0c0"/>
<path d="M2 633h5v1h-5zM30 633h2v1h-2zM103 633h2v1h-2zM146 633h1v1h-1zM437 633h2v1h-2zM531 633h2v1h-2zM545 633h1v1h-1zM551 633h4v1h-4zM585 633h1v1h-1zM591 633h4v1h-4zM617 633h4v1h-4zM631 633h2v1h-2zM639 633h5v1h-5zM777 633h1v1h-1zM1153 633h1v1h-1zM1181 633h1v1h-1zM7 632h8v1h-8zM28 632h2v1h-2zM105 632h1v1h-1zM127 632h8v1h-8zM143 632h4v1h-4zM439 632h1v1h-1zM530 632h1v1h-1zM546 632h5v1h-5zM555 632h2v1h-2zM583 632h2v1h-2zM621 632h4v1h-4zM628 632h3v1h-3zM644 632h3v1h-3zM776 632h1v1h-1zM1154 632h21v1h-21zM1179 632h2v1h-2zM15 631h13v1h-13zM106 631h2v1h-2zM122 631h5v1h-5zM135 631h8v1h-8zM440 631h2v1h-2zM529 631h1v1h-1zM557 631h2v1h-2zM582 631h1v1h-1zM625 631h3v1h-3zM647 631h2v1h-2zM776 631h1v1h-1zM1175 631h4v1h-4zM32 634h2v1h-2zM89 634h3v1h-3zM102 634h1v1h-1zM147 634h1v1h-1zM402 634h5v1h-5zM415 634h6v1h-6zM435 634h2v1h-2zM533 634h1v1h-1zM543 634h2v1h-2zM586 634h5v1h-5zM595 634h2v1h-2zM613 634h4v1h-4zM633 634h6v1h-6zM777 634h1v1h-1zM1153 634h1v1h-1zM1182 634h1v1h-1zM1193 634h3v1h-3zM34 635h1v1h-1zM85 635h4v1h-4zM92 635h3v1h-3zM101 635h1v1h-1zM147 635h1v1h-1zM402 635h1v1h-1zM407 635h8v1h-8zM421 635h4v1h-4zM431 635h4v1h-4zM534 635h1v1h-1zM542 635h1v1h-1zM597 635h2v1h-2zM609 635h4v1h-4zM778 635h2v1h-2zM1152 635h1v1h-1zM1183 635h2v1h-2zM1191 635h2v1h-2zM1196 635h2v1h-2zM35 636h2v1h-2zM79 636h6v1h-6zM95 636h2v1h-2zM99 636h2v1h-2zM148 636h1v1h-1zM401 636h1v1h-1zM425 636h6v1h-6zM535 636h2v1h-2zM541 636h1v1h-1zM599 636h1v1h-1zM607 636h2v1h-2zM780 636h3v1h-3zM1152 636h1v1h-1zM1185 636h1v1h-1zM1188 636h3v1h-3zM1198 636h2v1h-2zM1234 636h2v1h-2zM37 637h1v1h-1zM71 637h8v1h-8zM97 637h2v1h-2zM148 637h1v1h-1zM401 637h1v1h-1zM537 637h1v1h-1zM539 637h2v1h-2zM600 637h2v1h-2zM604 637h3v1h-3zM783 637h2v1h-2zM1151 637h1v1h-1zM1186 637h2v1h-2zM1200 637h2v1h-2zM1232 637h2v1h-2zM1236 637h2v1h-2zM38 638h1v1h-1zM58 638h13v1h-13zM149 638h1v1h-1zM400 638h1v1h-1zM538 638h1v1h-1zM602 638h2v1h-2zM785 638h6v1h-6zM1151 638h1v1h-1zM1202 638h10v1h-10zM1231 638h1v1h-1zM1238 638h2v1h-2zM39 639h2v1h-2zM57 639h1v1h-1zM149 639h1v1h-1zM400 639h1v1h-1zM791 639h4v1h-4zM1098 639h18v1h-18zM1150 639h1v1h-1zM1212 639h3v1h-3zM1229 639h2v1h-2zM1240 639h2v1h-2zM41 640h1v1h-1zM55 640h2v1h-2zM150 640h1v1h-1zM399 640h1v1h-1zM794 640h1v1h-1zM1097 640h1v1h-1zM1116 640h2v1h-2zM1129 640h2v1h-2zM1149 640h1v1h-1zM1215 640h2v1h-2zM1227 640h2v1h-2zM1242 640h1v1h-1zM42 641h2v1h-2zM54 641h1v1h-1zM150 641h1v1h-1zM399 641h1v1h-1zM795 641h1v1h-1zM1096 641h1v1h-1zM1118 641h2v1h-2zM1127 641h2v1h-2zM1131 641h1v1h-1zM1149 641h1v1h-1zM1217 641h10v1h-10zM1243 641h1v1h-1zM44 642h3v1h-3zM53 642h1v1h-1zM150 642h1v1h-1zM398 642h1v1h-1zM795 642h1v1h-1zM1095 642h1v1h-1zM1120 642h2v1h-2zM1124 642h3v1h-3zM1132 642h1v1h-1zM1148 642h1v1h-1zM1244 642h1v1h-1zM47 643h2v1h-2zM51 643h2v1h-2zM151 643h1v1h-1zM398 643h1v1h-1zM795 643h1v1h-1zM986 643h1v1h-1zM1094 643h1v1h-1zM1122 643h2v1h-2zM1132 643h1v1h-1zM1148 643h1v1h-1zM1245 643h1v1h-1zM49 644h2v1h-2zM151 644h1v1h-1zM397 644h1v1h-1zM795 644h1v1h-1zM985 644h1v1h-1zM987 644h1v1h-1zM1094 644h1v1h-1zM1133 644h1v1h-1zM1147 644h1v1h-1zM1246 644h1v1h-1zM108 630h2v1h-2zM120 630h2v1h-2zM442 630h5v1h-5zM529 630h1v1h-1zM559 630h1v1h-1zM581 630h1v1h-1zM649 630h11v1h-11zM775 630h1v1h-1zM110 629h2v1h-2zM118 629h2v1h-2zM447 629h5v1h-5zM528 629h1v1h-1zM560 629h2v1h-2zM567 629h8v1h-8zM579 629h2v1h-2zM660 629h3v1h-3zM775 629h1v1h-1zM112 628h2v1h-2zM116 628h2v1h-2zM452 628h2v1h-2zM527 628h1v1h-1zM562 628h5v1h-5zM575 628h4v1h-4zM663 628h2v1h-2zM774 628h1v1h-1zM114 627h2v1h-2zM454 627h2v1h-2zM526 627h1v1h-1zM665 627h4v1h-4zM773 627h1v1h-1zM152 645h1v1h-1zM397 645h1v1h-1zM796 645h1v1h-1zM983 645h2v1h-2zM987 645h1v1h-1zM1093 645h1v1h-1zM1134 645h1v1h-1zM1147 645h1v1h-1zM1246 645h1v1h-1zM152 646h1v1h-1zM396 646h1v1h-1zM796 646h1v1h-1zM982 646h1v1h-1zM988 646h1v1h-1zM1082 646h3v1h-3zM1092 646h1v1h-1zM1135 646h1v1h-1zM1146 646h1v1h-1zM1247 646h1v1h-1zM153 647h1v1h-1zM396 647h1v1h-1zM796 647h1v1h-1zM981 647h1v1h-1zM988 647h1v1h-1zM1081 647h1v1h-1zM1085 647h4v1h-4zM1091 647h1v1h-1zM1136 647h1v1h-1zM1144 647h2v1h-2zM1248 647h1v1h-1zM1265 647h2v1h-2zM153 648h1v1h-1zM395 648h1v1h-1zM797 648h1v1h-1zM979 648h2v1h-2zM989 648h1v1h-1zM1081 648h1v1h-1zM1089 648h2v1h-2zM1136 648h1v1h-1zM1142 648h2v1h-2zM1249 648h1v1h-1zM1261 648h4v1h-4zM1267 648h2v1h-2zM154 649h1v1h-1zM395 649h1v1h-1zM797 649h1v1h-1zM977 649h2v1h-2zM989 649h1v1h-1zM1080 649h1v1h-1zM1137 649h1v1h-1zM1140 649h2v1h-2zM1250 649h11v1h-11zM1269 649h2v1h-2zM1297 649h3v1h-3zM1313 649h3v1h-3zM154 650h1v1h-1zM394 650h1v1h-1zM797 650h1v1h-1zM975 650h2v1h-2zM990 650h1v1h-1zM1079 650h1v1h-1zM1138 650h2v1h-2zM1271 650h1v1h-1zM1295 650h2v1h-2zM1300 650h3v1h-3zM1311 650h2v1h-2zM1316 650h2v1h-2zM155 651h1v1h-1zM394 651h1v1h-1zM798 651h1v1h-1zM972 651h3v1h-3zM990 651h1v1h-1zM1078 651h1v1h-1zM1272 651h2v1h-2zM1292 651h3v1h-3zM1303 651h2v1h-2zM1308 651h3v1h-3zM1318 651h2v1h-2zM156 652h1v1h-1zM202 652h1v1h-1zM392 652h2v1h-2zM798 652h1v1h-1zM954 652h3v1h-3zM969 652h3v1h-3zM991 652h1v1h-1zM1078 652h1v1h-1zM1274 652h1v1h-1zM1290 652h2v1h-2zM1305 652h3v1h-3zM1320 652h2v1h-2zM157 653h1v1h-1zM201 653h1v1h-1zM203 653h1v1h-1zM391 653h1v1h-1zM798 653h1v1h-1zM952 653h2v1h-2zM957 653h4v1h-4zM965 653h4v1h-4zM991 653h1v1h-1zM1077 653h1v1h-1zM1275 653h2v1h-2zM1288 653h2v1h-2zM1322 653h2v1h-2zM158 654h1v1h-1zM201 654h1v1h-1zM204 654h1v1h-1zM389 654h2v1h-2zM798 654h1v1h-1zM951 654h1v1h-1zM961 654h4v1h-4zM992 654h1v1h-1zM1076 654h1v1h-1zM1277 654h2v1h-2zM1287 654h1v1h-1zM1324 654h2v1h-2zM159 655h1v1h-1zM200 655h1v1h-1zM205 655h1v1h-1zM249 655h3v1h-3zM387 655h2v1h-2zM799 655h1v1h-1zM833 655h6v1h-6zM949 655h2v1h-2zM992 655h1v1h-1zM1075 655h1v1h-1zM1279 655h1v1h-1zM1285 655h2v1h-2zM1326 655h2v1h-2zM160 656h1v1h-1zM199 656h1v1h-1zM206 656h1v1h-1zM247 656h2v1h-2zM252 656h3v1h-3zM386 656h1v1h-1zM799 656h1v1h-1zM810 656h13v1h-13zM829 656h4v1h-4zM839 656h4v1h-4zM947 656h2v1h-2zM993 656h1v1h-1zM1075 656h1v1h-1zM1280 656h2v1h-2zM1283 656h2v1h-2zM1328 656h2v1h-2zM161 657h1v1h-1zM167 657h6v1h-6zM199 657h1v1h-1zM207 657h1v1h-1zM244 657h3v1h-3zM255 657h2v1h-2zM385 657h1v1h-1zM799 657h1v1h-1zM809 657h1v1h-1zM823 657h6v1h-6zM843 657h2v1h-2zM946 657h1v1h-1zM993 657h1v1h-1zM1065 657h10v1h-10zM1282 657h1v1h-1zM1330 657h21v1h-21zM162 658h5v1h-5zM173 658h4v1h-4zM198 658h1v1h-1zM208 658h1v1h-1zM241 658h3v1h-3zM257 658h4v1h-4zM384 658h1v1h-1zM800 658h1v1h-1zM808 658h1v1h-1zM845 658h1v1h-1zM945 658h1v1h-1zM994 658h5v1h-5zM1061 658h4v1h-4zM1351 658h8v1h-8zM177 659h2v1h-2zM197 659h1v1h-1zM209 659h1v1h-1zM237 659h4v1h-4zM261 659h4v1h-4zM383 659h1v1h-1zM800 659h1v1h-1zM808 659h1v1h-1zM846 659h1v1h-1zM882 659h1v1h-1zM945 659h1v1h-1zM999 659h8v1h-8zM1058 659h3v1h-3zM1359 659h4v1h-4zM179 660h2v1h-2zM197 660h1v1h-1zM210 660h2v1h-2zM231 660h6v1h-6zM265 660h11v1h-11zM382 660h1v1h-1zM800 660h1v1h-1zM807 660h1v1h-1zM847 660h2v1h-2zM880 660h2v1h-2zM883 660h1v1h-1zM944 660h1v1h-1zM1007 660h5v1h-5zM1056 660h2v1h-2zM181 661h2v1h-2zM196 661h1v1h-1zM212 661h2v1h-2zM225 661h6v1h-6zM276 661h3v1h-3zM361 661h3v1h-3zM382 661h1v1h-1zM801 661h1v1h-1zM806 661h1v1h-1zM849 661h1v1h-1zM878 661h2v1h-2zM883 661h1v1h-1zM944 661h1v1h-1zM1012 661h2v1h-2zM1055 661h1v1h-1zM183 662h1v1h-1zM195 662h1v1h-1zM214 662h2v1h-2zM223 662h2v1h-2zM279 662h2v1h-2zM357 662h4v1h-4zM364 662h2v1h-2zM381 662h1v1h-1zM801 662h1v1h-1zM805 662h1v1h-1zM850 662h5v1h-5zM876 662h2v1h-2zM884 662h1v1h-1zM943 662h1v1h-1zM1014 662h2v1h-2zM1053 662h2v1h-2zM184 663h2v1h-2zM195 663h1v1h-1zM216 663h2v1h-2zM220 663h3v1h-3zM281 663h6v1h-6zM354 663h3v1h-3zM366 663h2v1h-2zM380 663h1v1h-1zM801 663h1v1h-1zM804 663h1v1h-1zM855 663h8v1h-8zM871 663h5v1h-5zM885 663h1v1h-1zM943 663h1v1h-1zM1016 663h2v1h-2zM1051 663h2v1h-2zM186 664h9v1h-9zM218 664h2v1h-2zM287 664h4v1h-4zM353 664h1v1h-1zM368 664h2v1h-2zM379 664h1v1h-1zM801 664h1v1h-1zM804 664h1v1h-1zM863 664h8v1h-8zM885 664h1v1h-1zM942 664h1v1h-1zM1018 664h2v1h-2zM1050 664h1v1h-1zM291 665h1v1h-1zM352 665h1v1h-1zM370 665h9v1h-9zM802 665h2v1h-2zM886 665h1v1h-1zM941 665h1v1h-1zM1020 665h3v1h-3zM1049 665h1v1h-1zM292 666h1v1h-1zM351 666h1v1h-1zM802 666h1v1h-1zM887 666h1v1h-1zM941 666h1v1h-1zM1023 666h2v1h-2zM1048 666h1v1h-1zM292 667h1v1h-1zM350 667h1v1h-1zM887 667h1v1h-1zM940 667h1v1h-1zM1025 667h2v1h-2zM1047 667h1v1h-1zM293 668h1v1h-1zM350 668h1v1h-1zM888 668h1v1h-1zM922 668h3v1h-3zM940 668h1v1h-1zM1027 668h2v1h-2zM1046 668h1v1h-1zM294 669h1v1h-1zM338 669h2v1h-2zM349 669h1v1h-1zM889 669h1v1h-1zM921 669h1v1h-1zM925 669h4v1h-4zM939 669h1v1h-1zM1029 669h2v1h-2zM1045 669h1v1h-1zM295 670h1v1h-1zM337 670h1v1h-1zM340 670h3v1h-3zM348 670h1v1h-1zM889 670h1v1h-1zM920 670h1v1h-1zM929 670h6v1h-6zM939 670h1v1h-1zM1031 670h1v1h-1zM1044 670h1v1h-1zM296 671h1v1h-1zM336 671h1v1h-1zM343 671h2v1h-2zM347 671h1v1h-1zM890 671h1v1h-1zM919 671h1v1h-1zM935 671h4v1h-4zM1032 671h2v1h-2zM1043 671h1v1h-1zM296 672h1v1h-1zM335 672h1v1h-1zM345 672h2v1h-2zM891 672h2v1h-2zM917 672h2v1h-2zM1034 672h9v1h-9zM297 673h1v1h-1zM334 673h1v1h-1zM893 673h1v1h-1zM916 673h1v1h-1zM298 674h1v1h-1zM333 674h1v1h-1zM894 674h1v1h-1zM915 674h1v1h-1zM299 675h2v1h-2zM322 675h3v1h-3zM332 675h1v1h-1zM895 675h2v1h-2zM913 675h2v1h-2zM301 676h1v1h-1zM321 676h1v1h-1zM325 676h4v1h-4zM331 676h1v1h-1zM897 676h1v1h-1zM909 676h4v1h-4zM302 677h1v1h-1zM320 677h1v1h-1zM329 677h2v1h-2zM898 677h11v1h-11zM303 678h2v1h-2zM319 678h1v1h-1zM305 679h1v1h-1zM318 679h1v1h-1zM306 680h2v1h-2zM317 680h1v1h-1zM308 681h3v1h-3zM316 681h1v1h-1zM311 682h2v1h-2zM315 682h1v1h-1zM313 683h2v1h-2zM456 626h2v1h-2zM526 626h1v1h-1zM669 626h4v1h-4zM722 626h3v1h-3zM773 626h1v1h-1zM458 625h29v1h-29zM495 625h6v1h-6zM525 625h1v1h-1zM673 625h2v1h-2zM690 625h1v1h-1zM720 625h2v1h-2zM725 625h4v1h-4zM772 625h1v1h-1zM487 624h8v1h-8zM501 624h4v1h-4zM524 624h1v1h-1zM675 624h2v1h-2zM688 624h2v1h-2zM691 624h2v1h-2zM718 624h2v1h-2zM729 624h6v1h-6zM772 624h1v1h-1zM505 623h12v1h-12zM523 623h1v1h-1zM677 623h2v1h-2zM687 623h1v1h-1zM693 623h1v1h-1zM716 623h2v1h-2zM735 623h4v1h-4zM771 623h1v1h-1zM517 622h4v1h-4zM523 622h1v1h-1zM679 622h1v1h-1zM685 622h2v1h-2zM694 622h1v1h-1zM714 622h2v1h-2zM739 622h2v1h-2zM771 622h1v1h-1zM521 621h2v1h-2zM680 621h2v1h-2zM683 621h2v1h-2zM695 621h2v1h-2zM713 621h1v1h-1zM741 621h2v1h-2zM761 621h10v1h-10zM682 620h1v1h-1zM697 620h1v1h-1zM711 620h2v1h-2zM743 620h1v1h-1zM757 620h4v1h-4zM698 619h2v1h-2zM710 619h1v1h-1zM744 619h2v1h-2zM751 619h6v1h-6zM700 618h3v1h-3zM709 618h1v1h-1zM746 618h5v1h-5zM703 617h2v1h-2zM707 617h2v1h-2zM705 616h2v1h-2z" fill="#1e90ff"/>
<text x="6.5" y="594" fill="#000" font-size="10.2" textLength="67.3" lengthAdjust="spacingAndGlyphs">RSI(14) 34.8458</text>
<text x="1390" y="592" fill="#000" font-size="10.2" textLength="15.3" lengthAdjust="spacingAndGlyphs">100</text>
<text x="1390" y="622" fill="#000" font-size="10.2" textLength="10.2" lengthAdjust="spacingAndGlyphs">70</text>
<text x="1390" y="669" fill="#000" font-size="10.2" textLength="10.2" lengthAdjust="spacingAndGlyphs">30</text>
<text x="1390" y="698" fill="#000" font-size="10.2" textLength="5.1" lengthAdjust="spacingAndGlyphs">0</text>
<rect x="1387" y="583" width="1" height="1" fill="#000"/>
<rect x="1387" y="700" width="1" height="1" fill="#000"/>
<rect x="2" y="702" width="1" height="3" fill="#000"/>
<text x="1" y="714" fill="#000" font-size="10.2" textLength="41.7" lengthAdjust="spacingAndGlyphs">9 Jul 2021</text>
<rect x="66" y="702" width="1" height="3" fill="#000"/>
<text x="65.5" y="714" fill="#000" font-size="10.2" textLength="49.5" lengthAdjust="spacingAndGlyphs">12 Jul 16:00</text>
<rect x="130" y="702" width="1" height="3" fill="#000"/>
<text x="129.5" y="714" fill="#000" font-size="10.2" textLength="49.5" lengthAdjust="spacingAndGlyphs">14 Jul 00:00</text>
<rect x="194" y="702" width="1" height="3" fill="#000"/>
<text x="193.5" y="714" fill="#000" font-size="10.2" textLength="49.5" lengthAdjust="spacingAndGlyphs">15 Jul 08:00</text>
<rect x="258" y="702" width="1" height="3" fill="#000"/>
<text x="257.5" y="714" fill="#000" font-size="10.2" textLength="49.5" lengthAdjust="spacingAndGlyphs">16 Jul 16:00</text>
<rect x="322" y="702" width="1" height="3" fill="#000"/>
<text x="321.5" y="714" fill="#000" font-size="10.2" textLength="49.5" lengthAdjust="spacingAndGlyphs">19 Jul 20:00</text>
<rect x="386" y="702" width="1" height="3" fill="#000"/>
<text x="385.5" y="714" fill="#000" font-size="10.2" textLength="49.5" lengthAdjust="spacingAndGlyphs">21 Jul 04:00</text>
<rect x="450" y="702" width="1" height="3" fill="#000"/>
<text x="449.5" y="714" fill="#000" font-size="10.2" textLength="49.5" lengthAdjust="spacingAndGlyphs">22 Jul 12:00</text>
<rect x="514" y="702" width="1" height="3" fill="#000"/>
<text x="513.5" y="714" fill="#000" font-size="10.2" textLength="49.5" lengthAdjust="spacingAndGlyphs">23 Jul 20:00</text>
<rect x="578" y="702" width="1" height="3" fill="#000"/>
<text x="577.5" y="714" fill="#000" font-size="10.2" textLength="49.5" lengthAdjust="spacingAndGlyphs">27 Jul 00:00</text>
<rect x="642" y="702" width="1" height="3" fill="#000"/>
<text x="641.5" y="714" fill="#000" font-size="10.2" textLength="49.5" lengthAdjust="spacingAndGlyphs">28 Jul 08:00</text>
<rect x="706" y="702" width="1" height="3" fill="#000"/>
<text x="705.5" y="714" fill="#000" font-size="10.2" textLength="49.5" lengthAdjust="spacingAndGlyphs">29 Jul 16:00</text>
<rect x="770" y="702" width="1" height="3" fill="#000"/>
<text x="769.5" y="714" fill="#000" font-size="10.2" textLength="50.5" lengthAdjust="spacingAndGlyphs">1 Aug 23:00</text>
<rect x="834" y="702" width="1" height="3" fill="#000"/>
<text x="833.5" y="714" fill="#000" font-size="10.2" textLength="50.5" lengthAdjust="spacingAndGlyphs">3 Aug 04:00</text>
<rect x="898" y="702" width="1" height="3" fill="#000"/>
<text x="897.5" y="714" fill="#000" font-size="10.2" textLength="50.5" lengthAdjust="spacingAndGlyphs">4 Aug 12:00</text>
<rect x="962" y="702" width="1" height="3" fill="#000"/>
<text x="961.5" y="714" fill="#000" font-size="10.2" textLength="50.5" lengthAdjust="spacingAndGlyphs">5 Aug 20:00</text>
<rect x="1026" y="702" width="1" height="3" fill="#000"/>
<text x="1025.5" y="714" fill="#000" font-size="10.2" textLength="50.5" lengthAdjust="spacingAndGlyphs">9 Aug 00:00</text>
<rect x="1090" y="702" width="1" height="3" fill="#000"/>
<text x="1089.5" y="714" fill="#000" font-size="10.2" textLength="55.5" lengthAdjust="spacingAndGlyphs">10 Aug 08:00</text>
<rect x="1154" y="702" width="1" height="3" fill="#000"/>
<text x="1153.5" y="714" fill="#000" font-size="10.2" textLength="55.5" lengthAdjust="spacingAndGlyphs">11 Aug 16:00</text>
<rect x="1218" y="702" width="1" height="3" fill="#000"/>
<text x="1217.5" y="714" fill="#000" font-size="10.2" textLength="55.5" lengthAdjust="spacingAndGlyphs">13 Aug 00:00</text>
<rect x="1282" y="702" width="1" height="3" fill="#000"/>
<text x="1281.5" y="714" fill="#000" font-size="10.2" textLength="55.5" lengthAdjust="spacingAndGlyphs">16 Aug 04:00</text>
<rect x="1346" y="702" width="1" height="3" fill="#000"/>
<text x="1345.5" y="714" fill="#000" font-size="10.2" textLength="55.5" lengthAdjust="spacingAndGlyphs">17 Aug 12:00</text>
</svg>
</body></html>
